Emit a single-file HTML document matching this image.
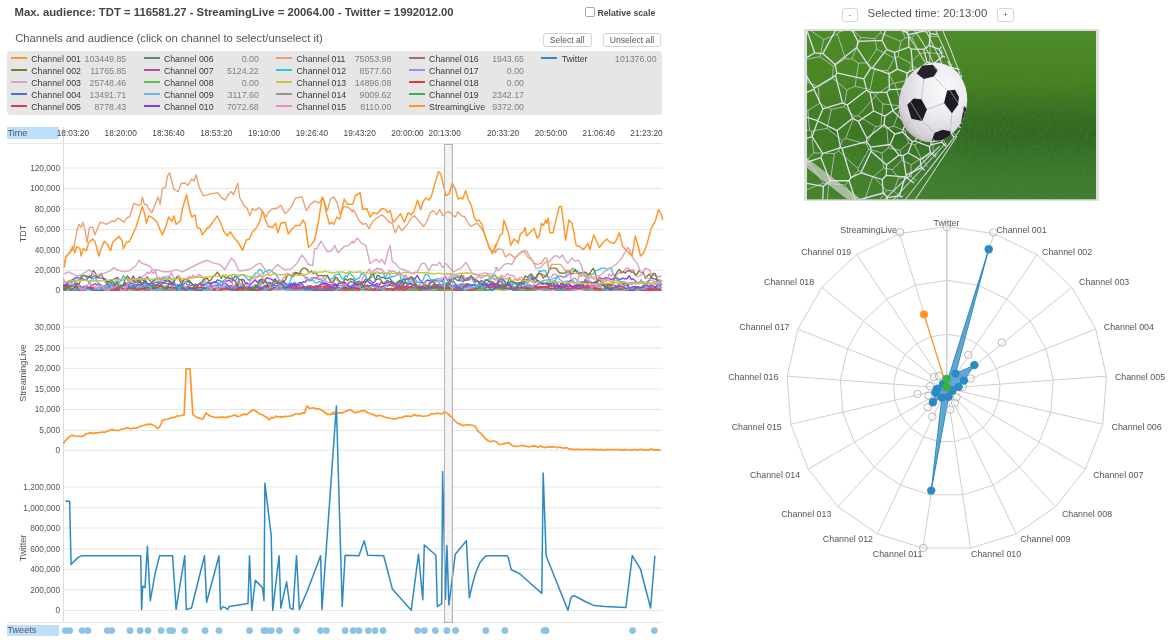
<!DOCTYPE html>
<html><head><meta charset="utf-8">
<style>
html,body{margin:0;padding:0;background:#fff;width:1172px;height:640px;overflow:hidden;font-family:'Liberation Sans', Arial, Helvetica, sans-serif;}
.abs{position:absolute;white-space:nowrap;}
#title{left:14.6px;top:4px;font-size:11.32px;font-weight:bold;color:#444;line-height:16px;}
#sub{left:15.2px;top:30.2px;font-size:11.25px;color:#555;line-height:16px;}
.btn{position:absolute;top:32.9px;height:12.2px;border:1px solid #d4d4d4;border-radius:3px;background:#fff;font-size:8.6px;color:#555;text-align:center;line-height:12.4px;box-sizing:content-box;}
#legend{position:absolute;left:7px;top:51px;width:655px;height:64px;background:#e6e6e6;border-radius:4px;}
.li{position:absolute;font-size:8.75px;color:#3a3a3a;line-height:10px;}
.lv{position:absolute;font-size:8.8px;color:#808080;line-height:10px;text-align:right;}
.ll{position:absolute;height:2px;width:16px;}
svg text{font-family:'Liberation Sans', Arial, Helvetica, sans-serif;}
.yl{font-size:8.25px;fill:#555;}
.tl{font-size:8.3px;fill:#444;}
.tl2{font-size:9.1px;fill:#555;}
.at{font-size:9px;fill:#555;}
.rl{font-size:8.85px;fill:#555;}
</style></head><body>
<div class="abs" id="title">Max. audience: TDT = 116581.27 - StreamingLive = 20064.00 - Twitter = 1992012.00</div>
<div class="abs" id="sub">Channels and audience (click on channel to select/unselect it)</div>
<div class="abs" style="left:585.3px;top:7.2px;width:7.6px;height:7.4px;border:1px solid #a8a8a8;border-radius:2px;background:#fff"></div>
<div class="abs" style="left:597.4px;top:6.8px;font-size:8.75px;font-weight:bold;color:#4a4a4a;line-height:12px">Relative scale</div>
<div class="btn" style="left:543px;width:46.5px">Select all</div>
<div class="btn" style="left:603px;width:56px">Unselect all</div>
<div id="legend"></div>
<div class="ll" style="left:11.0px;top:57.1px;background:#ff9626"></div>
<div class="li" style="left:31.3px;top:54.3px">Channel 001</div>
<div class="lv" style="left:66.0px;width:60.2px;top:54.3px">103449.85</div>
<div class="ll" style="left:11.0px;top:69.1px;background:#7f7a2e"></div>
<div class="li" style="left:31.3px;top:66.3px">Channel 002</div>
<div class="lv" style="left:66.0px;width:60.2px;top:66.3px">11765.85</div>
<div class="ll" style="left:11.0px;top:81.1px;background:#d8a6c8"></div>
<div class="li" style="left:31.3px;top:78.3px">Channel 003</div>
<div class="lv" style="left:66.0px;width:60.2px;top:78.3px">25748.46</div>
<div class="ll" style="left:11.0px;top:93.1px;background:#4a6ed2"></div>
<div class="li" style="left:31.3px;top:90.3px">Channel 004</div>
<div class="lv" style="left:66.0px;width:60.2px;top:90.3px">13491.71</div>
<div class="ll" style="left:11.0px;top:105.1px;background:#d0404e"></div>
<div class="li" style="left:31.3px;top:102.3px">Channel 005</div>
<div class="lv" style="left:66.0px;width:60.2px;top:102.3px">8778.43</div>
<div class="ll" style="left:143.6px;top:57.1px;background:#5a8a72"></div>
<div class="li" style="left:163.9px;top:54.3px">Channel 006</div>
<div class="lv" style="left:198.6px;width:60.2px;top:54.3px">0.00</div>
<div class="ll" style="left:143.6px;top:69.1px;background:#b84c9e"></div>
<div class="li" style="left:163.9px;top:66.3px">Channel 007</div>
<div class="lv" style="left:198.6px;width:60.2px;top:66.3px">5124.22</div>
<div class="ll" style="left:143.6px;top:81.1px;background:#5cc050"></div>
<div class="li" style="left:163.9px;top:78.3px">Channel 008</div>
<div class="lv" style="left:198.6px;width:60.2px;top:78.3px">0.00</div>
<div class="ll" style="left:143.6px;top:93.1px;background:#6ab8f0"></div>
<div class="li" style="left:163.9px;top:90.3px">Channel 009</div>
<div class="lv" style="left:198.6px;width:60.2px;top:90.3px">3117.60</div>
<div class="ll" style="left:143.6px;top:105.1px;background:#7f40f8"></div>
<div class="li" style="left:163.9px;top:102.3px">Channel 010</div>
<div class="lv" style="left:198.6px;width:60.2px;top:102.3px">7072.68</div>
<div class="ll" style="left:276.2px;top:57.1px;background:#eaa070"></div>
<div class="li" style="left:296.5px;top:54.3px">Channel 011</div>
<div class="lv" style="left:331.2px;width:60.2px;top:54.3px">75053.98</div>
<div class="ll" style="left:276.2px;top:69.1px;background:#30c8d8"></div>
<div class="li" style="left:296.5px;top:66.3px">Channel 012</div>
<div class="lv" style="left:331.2px;width:60.2px;top:66.3px">8577.60</div>
<div class="ll" style="left:276.2px;top:81.1px;background:#c8c43c"></div>
<div class="li" style="left:296.5px;top:78.3px">Channel 013</div>
<div class="lv" style="left:331.2px;width:60.2px;top:78.3px">14896.08</div>
<div class="ll" style="left:276.2px;top:93.1px;background:#929292"></div>
<div class="li" style="left:296.5px;top:90.3px">Channel 014</div>
<div class="lv" style="left:331.2px;width:60.2px;top:90.3px">9009.62</div>
<div class="ll" style="left:276.2px;top:105.1px;background:#f08ad0"></div>
<div class="li" style="left:296.5px;top:102.3px">Channel 015</div>
<div class="lv" style="left:331.2px;width:60.2px;top:102.3px">8110.00</div>
<div class="ll" style="left:408.8px;top:57.1px;background:#a8705c"></div>
<div class="li" style="left:429.1px;top:54.3px">Channel 016</div>
<div class="lv" style="left:463.8px;width:60.2px;top:54.3px">1943.65</div>
<div class="ll" style="left:408.8px;top:69.1px;background:#b486e4"></div>
<div class="li" style="left:429.1px;top:66.3px">Channel 017</div>
<div class="lv" style="left:463.8px;width:60.2px;top:66.3px">0.00</div>
<div class="ll" style="left:408.8px;top:81.1px;background:#e03c3c"></div>
<div class="li" style="left:429.1px;top:78.3px">Channel 018</div>
<div class="lv" style="left:463.8px;width:60.2px;top:78.3px">0.00</div>
<div class="ll" style="left:408.8px;top:93.1px;background:#3cb040"></div>
<div class="li" style="left:429.1px;top:90.3px">Channel 019</div>
<div class="lv" style="left:463.8px;width:60.2px;top:90.3px">2342.17</div>
<div class="ll" style="left:408.8px;top:105.1px;background:#ff9626"></div>
<div class="li" style="left:429.1px;top:102.3px">StreamingLive</div>
<div class="lv" style="left:463.8px;width:60.2px;top:102.3px">9372.00</div>
<div class="ll" style="left:541.4px;top:57.1px;background:#2b8ac6"></div>
<div class="li" style="left:561.7px;top:54.3px">Twitter</div>
<div class="lv" style="left:596.4px;width:60.2px;top:54.3px">101376.00</div>
<svg class="abs" style="left:0;top:0" width="1172" height="640" viewBox="0 0 1172 640">
<line x1="7" y1="143.5" x2="662.5" y2="143.5" stroke="#e6e6e6" stroke-width="1"/>
<line x1="7" y1="622.5" x2="662.5" y2="622.5" stroke="#e6e6e6" stroke-width="1"/>
<line x1="63.5" y1="127" x2="63.5" y2="623" stroke="#dcdcdc" stroke-width="1"/>
<line x1="64" y1="290.6" x2="662.5" y2="290.6" stroke="#e6e6e6" stroke-width="1"/>
<text x="60" y="293.4" text-anchor="end" class="yl">0</text>
<line x1="64" y1="270.2" x2="662.5" y2="270.2" stroke="#e6e6e6" stroke-width="1"/>
<text x="60" y="273.0" text-anchor="end" class="yl">20,000</text>
<line x1="64" y1="249.8" x2="662.5" y2="249.8" stroke="#e6e6e6" stroke-width="1"/>
<text x="60" y="252.6" text-anchor="end" class="yl">40,000</text>
<line x1="64" y1="229.4" x2="662.5" y2="229.4" stroke="#e6e6e6" stroke-width="1"/>
<text x="60" y="232.2" text-anchor="end" class="yl">60,000</text>
<line x1="64" y1="209.0" x2="662.5" y2="209.0" stroke="#e6e6e6" stroke-width="1"/>
<text x="60" y="211.8" text-anchor="end" class="yl">80,000</text>
<line x1="64" y1="188.5" x2="662.5" y2="188.5" stroke="#e6e6e6" stroke-width="1"/>
<text x="60" y="191.3" text-anchor="end" class="yl">100,000</text>
<line x1="64" y1="168.0" x2="662.5" y2="168.0" stroke="#e6e6e6" stroke-width="1"/>
<text x="60" y="170.8" text-anchor="end" class="yl">120,000</text>
<line x1="64" y1="450.3" x2="662.5" y2="450.3" stroke="#e6e6e6" stroke-width="1"/>
<text x="60" y="453.1" text-anchor="end" class="yl">0</text>
<line x1="64" y1="430.4" x2="662.5" y2="430.4" stroke="#e6e6e6" stroke-width="1"/>
<text x="60" y="433.2" text-anchor="end" class="yl">5,000</text>
<line x1="64" y1="409.5" x2="662.5" y2="409.5" stroke="#e6e6e6" stroke-width="1"/>
<text x="60" y="412.3" text-anchor="end" class="yl">10,000</text>
<line x1="64" y1="389.1" x2="662.5" y2="389.1" stroke="#e6e6e6" stroke-width="1"/>
<text x="60" y="391.9" text-anchor="end" class="yl">15,000</text>
<line x1="64" y1="368.3" x2="662.5" y2="368.3" stroke="#e6e6e6" stroke-width="1"/>
<text x="60" y="371.1" text-anchor="end" class="yl">20,000</text>
<line x1="64" y1="348.0" x2="662.5" y2="348.0" stroke="#e6e6e6" stroke-width="1"/>
<text x="60" y="350.8" text-anchor="end" class="yl">25,000</text>
<line x1="64" y1="327.2" x2="662.5" y2="327.2" stroke="#e6e6e6" stroke-width="1"/>
<text x="60" y="330.0" text-anchor="end" class="yl">30,000</text>
<line x1="64" y1="610.6" x2="662.5" y2="610.6" stroke="#e6e6e6" stroke-width="1"/>
<text x="60" y="613.4" text-anchor="end" class="yl">0</text>
<line x1="64" y1="589.8" x2="662.5" y2="589.8" stroke="#e6e6e6" stroke-width="1"/>
<text x="60" y="592.6" text-anchor="end" class="yl">200,000</text>
<line x1="64" y1="569.3" x2="662.5" y2="569.3" stroke="#e6e6e6" stroke-width="1"/>
<text x="60" y="572.1" text-anchor="end" class="yl">400,000</text>
<line x1="64" y1="548.9" x2="662.5" y2="548.9" stroke="#e6e6e6" stroke-width="1"/>
<text x="60" y="551.7" text-anchor="end" class="yl">600,000</text>
<line x1="64" y1="528.1" x2="662.5" y2="528.1" stroke="#e6e6e6" stroke-width="1"/>
<text x="60" y="530.9" text-anchor="end" class="yl">800,000</text>
<line x1="64" y1="507.8" x2="662.5" y2="507.8" stroke="#e6e6e6" stroke-width="1"/>
<text x="60" y="510.6" text-anchor="end" class="yl">1,000,000</text>
<line x1="64" y1="487.0" x2="662.5" y2="487.0" stroke="#e6e6e6" stroke-width="1"/>
<text x="60" y="489.8" text-anchor="end" class="yl">1,200,000</text>
<text transform="translate(25.8,233.6) rotate(-90)" text-anchor="middle" class="at">TDT</text>
<text transform="translate(25.8,373.1) rotate(-90)" text-anchor="middle" class="at">StreamingLive</text>
<text transform="translate(25.8,547.9) rotate(-90)" text-anchor="middle" class="at">Twitter</text>
<rect x="7" y="127" width="52" height="12" fill="#bedff9"/>
<rect x="7" y="625" width="52" height="11" fill="#bedff9"/>
<text x="7.5" y="136.3" class="tl2">Time</text>
<text x="7.5" y="632.7" class="tl2">Tweets</text>
<text x="72.9" y="136.4" text-anchor="middle" class="tl">18:03:20</text>
<text x="120.7" y="136.4" text-anchor="middle" class="tl">18:20:00</text>
<text x="168.5" y="136.4" text-anchor="middle" class="tl">18:36:40</text>
<text x="216.3" y="136.4" text-anchor="middle" class="tl">18:53:20</text>
<text x="264.1" y="136.4" text-anchor="middle" class="tl">19:10:00</text>
<text x="311.9" y="136.4" text-anchor="middle" class="tl">19:26:40</text>
<text x="359.7" y="136.4" text-anchor="middle" class="tl">19:43:20</text>
<text x="407.5" y="136.4" text-anchor="middle" class="tl">20:00:00</text>
<text x="444.7" y="136.4" text-anchor="middle" class="tl">20:13:00</text>
<text x="503.1" y="136.4" text-anchor="middle" class="tl">20:33:20</text>
<text x="550.9" y="136.4" text-anchor="middle" class="tl">20:50:00</text>
<text x="598.7" y="136.4" text-anchor="middle" class="tl">21:06:40</text>
<text x="646.5" y="136.4" text-anchor="middle" class="tl">21:23:20</text>
<rect x="444.5" y="144.5" width="7.9" height="478" fill="#f3f3f3" stroke="#b4b4b4" stroke-width="1"/>
<polyline points="63.3,289.7 65.3,289.7 67.3,289.8 69.3,290.1 71.3,290.1 73.3,289.7 75.3,289.6 77.3,289.2 79.3,289.2 81.3,289.2 83.3,289.2 85.3,289.8 87.3,289.5 89.3,289.4 91.3,289.3 93.3,289.9 95.3,290.3 97.3,290.3 99.3,290.3 101.3,290.3 103.3,290.3 105.3,290.0 107.3,290.2 109.3,290.0 111.3,289.8 113.3,290.0 115.3,289.4 117.3,289.3 119.3,289.0 121.3,289.3 123.3,289.6 125.3,289.7 127.3,289.7 129.3,289.5 131.3,289.5 133.3,289.6 135.3,290.0 137.3,290.1 139.3,289.6 141.3,289.9 143.3,289.8 145.3,289.6 147.3,290.1 149.3,290.0 151.3,289.6 153.3,290.2 155.3,290.3 157.3,290.2 159.3,290.3 161.3,290.1 163.3,290.1 165.3,290.3 167.3,290.1 169.3,289.8 171.3,289.5 173.3,289.1 175.3,289.0 177.3,289.1 179.3,289.6 181.3,289.4 183.3,289.7 185.3,289.8 187.3,290.2 189.3,290.3 191.3,290.3 193.3,290.0 195.3,290.3 197.3,290.3 199.3,290.3 201.3,290.0 203.3,289.8 205.3,290.3 207.3,290.3 209.3,290.3 211.3,290.3 213.3,290.3 215.3,290.3 217.3,290.0 219.3,289.9 221.3,289.8 223.3,289.7 225.3,289.1 227.3,289.0 229.3,289.0 231.3,288.9 233.3,289.5 235.3,289.1 237.3,288.9 239.3,288.9 241.3,289.6 243.3,289.8 245.3,289.5 247.3,290.1 249.3,290.1 251.3,289.7 253.3,290.2 255.3,289.6 257.3,289.4 259.3,289.5 261.3,289.4 263.3,289.3 265.3,289.3 267.3,289.0 269.3,289.3 271.3,289.5 273.3,289.2 275.3,289.2 277.3,289.6 279.3,289.3 281.3,288.9 283.3,289.2 285.3,289.7 287.3,289.7 289.3,289.8 291.3,289.8 293.3,289.4 295.3,289.7 297.3,289.3 299.3,289.8 301.3,290.0 303.3,289.8 305.3,289.4 307.3,289.2 309.3,289.1 311.3,289.2 313.3,289.2 315.3,289.1 317.3,289.2 319.3,289.2 321.3,289.1 323.3,289.2 325.3,289.0 327.3,288.9 329.3,288.4 331.3,288.5 333.3,288.8 335.3,289.1 337.3,289.2 339.3,288.9 341.3,289.2 343.3,289.1 345.3,288.6 347.3,289.6 349.3,290.0 351.3,289.8 353.3,289.7 355.3,289.6 357.3,289.8 359.3,289.5 361.3,289.5 363.3,289.7 365.3,288.9 367.3,288.9 369.3,289.2 371.3,289.3 373.3,289.4 375.3,289.5 377.3,290.3 379.3,290.3 381.3,290.0 383.3,290.3 385.3,290.3 387.3,289.9 389.3,289.6 391.3,289.1 393.3,289.7 395.3,289.8 397.3,289.9 399.3,289.7 401.3,289.3 403.3,290.3 405.3,289.8 407.3,290.3 409.3,290.0 411.3,290.3 413.3,290.2 415.3,289.8 417.3,289.8 419.3,289.7 421.3,289.5 423.3,289.5 425.3,289.5 427.3,289.0 429.3,288.8 431.3,289.0 433.3,288.2 435.3,288.8 437.3,288.7 439.3,288.9 441.3,289.0 443.3,288.9 445.3,288.9 447.3,288.8 449.3,289.4 451.3,290.0 453.3,289.7 455.3,290.0 457.3,290.3 459.3,290.3 461.3,290.1 463.3,289.8 465.3,289.3 467.3,289.7 469.3,289.7 471.3,290.1 473.3,289.7 475.3,289.2 477.3,289.6 479.3,289.1 481.3,288.9 483.3,289.0 485.3,289.8 487.3,289.3 489.3,289.4 491.3,289.6 493.3,289.5 495.3,289.4 497.3,289.0 499.3,289.4 501.3,289.1 503.3,288.7 505.3,288.4 507.3,288.6 509.3,289.0 511.3,288.8 513.3,288.9 515.3,289.0 517.3,288.6 519.3,288.9 521.3,289.7 523.3,289.8 525.3,290.3 527.3,290.0 529.3,289.9 531.3,290.1 533.3,290.0 535.3,289.7 537.3,289.7 539.3,289.2 541.3,289.3 543.3,289.0 545.3,288.7 547.3,288.3 549.3,288.7 551.3,288.6 553.3,289.4 555.3,289.8 557.3,290.3 559.3,289.9 561.3,290.3 563.3,290.2 565.3,290.2 567.3,290.1 569.3,290.2 571.3,290.1 573.3,289.4 575.3,289.5 577.3,289.3 579.3,289.1 581.3,289.2 583.3,289.7 585.3,289.9 587.3,289.5 589.3,290.1 591.3,290.2 593.3,289.8 595.3,289.5 597.3,289.5 599.3,289.3 601.3,289.3 603.3,289.7 605.3,290.2 607.3,290.3 609.3,290.0 611.3,290.1 613.3,290.3 615.3,290.3 617.3,290.3 619.3,290.3 621.3,290.3 623.3,290.3 625.3,290.3 627.3,290.3 629.3,290.3 631.3,290.3 633.3,290.3 635.3,290.3 637.3,290.3 639.3,290.3 641.3,290.3 643.3,290.3 645.3,290.3 647.3,290.2 649.3,289.9 651.3,289.7 653.3,289.3 655.3,289.2 657.3,289.1 659.3,289.8 661.3,289.5" fill="none" stroke="#5a8a72" stroke-width="1.35" stroke-linejoin="round"/>
<polyline points="63.3,289.1 65.3,289.3 67.3,288.8 69.3,289.5 71.3,289.4 73.3,288.6 75.3,289.1 77.3,289.0 79.3,288.5 81.3,288.7 83.3,288.6 85.3,288.5 87.3,289.0 89.3,289.1 91.3,289.1 93.3,288.9 95.3,289.1 97.3,289.2 99.3,289.6 101.3,289.7 103.3,289.4 105.3,289.4 107.3,289.8 109.3,290.0 111.3,289.1 113.3,288.8 115.3,288.8 117.3,289.7 119.3,289.5 121.3,289.4 123.3,288.9 125.3,288.9 127.3,289.0 129.3,289.0 131.3,289.7 133.3,289.4 135.3,289.3 137.3,289.6 139.3,289.2 141.3,288.7 143.3,289.3 145.3,289.5 147.3,289.5 149.3,289.4 151.3,289.6 153.3,289.9 155.3,289.2 157.3,289.0 159.3,289.4 161.3,289.9 163.3,289.3 165.3,289.1 167.3,288.6 169.3,288.5 171.3,288.9 173.3,289.0 175.3,289.8 177.3,290.0 179.3,290.0 181.3,289.8 183.3,290.0 185.3,290.0 187.3,289.8 189.3,289.7 191.3,289.5 193.3,289.4 195.3,289.6 197.3,289.3 199.3,289.4 201.3,289.7 203.3,289.9 205.3,289.9 207.3,289.9 209.3,289.8 211.3,289.8 213.3,289.7 215.3,289.7 217.3,290.1 219.3,289.9 221.3,289.6 223.3,289.4 225.3,289.5 227.3,289.4 229.3,289.8 231.3,290.3 233.3,290.2 235.3,290.3 237.3,290.1 239.3,290.3 241.3,290.3 243.3,290.3 245.3,290.3 247.3,290.3 249.3,290.3 251.3,290.3 253.3,290.3 255.3,290.3 257.3,290.1 259.3,289.6 261.3,289.4 263.3,289.4 265.3,289.3 267.3,288.8 269.3,288.6 271.3,288.4 273.3,289.0 275.3,289.1 277.3,289.0 279.3,289.2 281.3,288.9 283.3,288.8 285.3,288.7 287.3,288.9 289.3,288.2 291.3,288.0 293.3,288.3 295.3,288.5 297.3,287.9 299.3,288.2 301.3,288.2 303.3,288.1 305.3,288.3 307.3,288.9 309.3,289.0 311.3,289.0 313.3,288.7 315.3,288.6 317.3,288.8 319.3,288.6 321.3,288.6 323.3,288.7 325.3,288.8 327.3,289.0 329.3,288.9 331.3,289.4 333.3,289.6 335.3,289.6 337.3,290.1 339.3,290.2 341.3,290.3 343.3,290.3 345.3,290.3 347.3,290.2 349.3,290.1 351.3,290.1 353.3,290.3 355.3,289.8 357.3,289.6 359.3,289.3 361.3,289.6 363.3,289.7 365.3,290.3 367.3,289.9 369.3,289.6 371.3,290.2 373.3,290.2 375.3,289.9 377.3,290.3 379.3,290.3 381.3,290.3 383.3,290.3 385.3,290.3 387.3,290.3 389.3,290.3 391.3,290.3 393.3,290.1 395.3,289.5 397.3,289.2 399.3,289.7 401.3,289.8 403.3,290.2 405.3,290.3 407.3,290.3 409.3,290.2 411.3,290.0 413.3,290.3 415.3,290.3 417.3,290.3 419.3,290.3 421.3,290.3 423.3,290.3 425.3,290.3 427.3,290.2 429.3,290.0 431.3,290.0 433.3,290.1 435.3,290.1 437.3,290.3 439.3,290.3 441.3,290.3 443.3,290.3 445.3,290.3 447.3,290.3 449.3,290.3 451.3,290.3 453.3,290.3 455.3,290.3 457.3,290.1 459.3,290.1 461.3,290.3 463.3,290.3 465.3,290.2 467.3,289.9 469.3,289.8 471.3,290.0 473.3,290.3 475.3,290.3 477.3,290.3 479.3,290.3 481.3,290.3 483.3,290.3 485.3,290.3 487.3,290.2 489.3,290.2 491.3,289.4 493.3,289.6 495.3,289.2 497.3,289.3 499.3,289.0 501.3,289.8 503.3,290.1 505.3,289.9 507.3,289.7 509.3,288.9 511.3,288.9 513.3,288.6 515.3,288.6 517.3,288.4 519.3,288.4 521.3,288.7 523.3,288.7 525.3,289.2 527.3,288.9 529.3,289.3 531.3,289.3 533.3,288.7 535.3,288.9 537.3,289.0 539.3,288.7 541.3,288.9 543.3,289.3 545.3,289.2 547.3,289.1 549.3,289.0 551.3,289.3 553.3,288.8 555.3,288.4 557.3,288.6 559.3,288.7 561.3,289.0 563.3,288.6 565.3,289.0 567.3,288.9 569.3,289.2 571.3,289.5 573.3,289.3 575.3,288.9 577.3,289.0 579.3,289.3 581.3,289.1 583.3,289.2 585.3,289.2 587.3,288.8 589.3,288.6 591.3,288.9 593.3,288.3 595.3,288.5 597.3,288.4 599.3,288.8 601.3,289.0 603.3,289.6 605.3,289.1 607.3,288.7 609.3,289.3 611.3,289.8 613.3,290.3 615.3,289.8 617.3,290.0 619.3,289.9 621.3,290.0 623.3,290.0 625.3,290.3 627.3,290.2 629.3,290.3 631.3,290.3 633.3,290.3 635.3,290.0 637.3,290.0 639.3,290.3 641.3,290.1 643.3,290.2 645.3,289.6 647.3,289.4 649.3,289.5 651.3,289.7 653.3,289.9 655.3,290.2 657.3,290.2 659.3,290.0 661.3,289.8" fill="none" stroke="#5cc050" stroke-width="1.35" stroke-linejoin="round"/>
<polyline points="63.3,287.4 65.3,288.0 67.3,288.1 69.3,286.7 71.3,288.1 73.3,288.5 75.3,288.5 77.3,288.5 79.3,288.3 81.3,288.6 83.3,288.4 85.3,288.5 87.3,288.1 89.3,289.3 91.3,289.7 93.3,289.6 95.3,290.1 97.3,290.3 99.3,289.9 101.3,290.1 103.3,289.6 105.3,289.1 107.3,288.9 109.3,288.7 111.3,288.8 113.3,289.5 115.3,289.5 117.3,289.2 119.3,289.4 121.3,289.4 123.3,288.9 125.3,289.4 127.3,289.0 129.3,288.0 131.3,288.4 133.3,288.4 135.3,288.6 137.3,287.8 139.3,287.8 141.3,287.5 143.3,288.1 145.3,288.3 147.3,288.4 149.3,289.4 151.3,288.6 153.3,288.1 155.3,289.2 157.3,288.8 159.3,288.9 161.3,288.6 163.3,288.5 165.3,289.4 167.3,289.4 169.3,288.6 171.3,288.9 173.3,289.5 175.3,290.1 177.3,290.3 179.3,290.2 181.3,289.1 183.3,288.9 185.3,288.7 187.3,287.6 189.3,288.1 191.3,288.6 193.3,288.3 195.3,288.1 197.3,288.8 199.3,289.5 201.3,289.2 203.3,289.1 205.3,289.7 207.3,289.7 209.3,289.9 211.3,289.5 213.3,289.5 215.3,289.5 217.3,289.6 219.3,288.9 221.3,288.2 223.3,288.5 225.3,288.1 227.3,288.7 229.3,288.7 231.3,288.3 233.3,287.6 235.3,288.0 237.3,288.2 239.3,288.2 241.3,289.1 243.3,289.1 245.3,289.4 247.3,289.2 249.3,289.7 251.3,290.3 253.3,290.3 255.3,290.1 257.3,290.2 259.3,289.5 261.3,289.6 263.3,289.8 265.3,289.4 267.3,290.2 269.3,290.3 271.3,290.2 273.3,289.6 275.3,289.6 277.3,289.3 279.3,289.6 281.3,289.3 283.3,288.4 285.3,288.9 287.3,287.6 289.3,288.2 291.3,288.3 293.3,288.3 295.3,287.8 297.3,288.7 299.3,289.8 301.3,289.4 303.3,288.9 305.3,288.6 307.3,287.2 309.3,287.4 311.3,287.5 313.3,287.2 315.3,287.3 317.3,286.6 319.3,287.7 321.3,288.1 323.3,290.0 325.3,289.4 327.3,289.6 329.3,289.0 331.3,287.8 333.3,288.0 335.3,288.3 337.3,288.7 339.3,289.2 341.3,289.5 343.3,289.0 345.3,289.0 347.3,289.0 349.3,289.1 351.3,288.6 353.3,288.4 355.3,288.5 357.3,288.2 359.3,288.4 361.3,289.1 363.3,288.3 365.3,288.2 367.3,288.8 369.3,288.3 371.3,288.2 373.3,289.1 375.3,288.2 377.3,288.2 379.3,287.8 381.3,287.9 383.3,288.1 385.3,289.1 387.3,288.5 389.3,288.6 391.3,288.8 393.3,288.6 395.3,288.7 397.3,288.3 399.3,288.6 401.3,288.7 403.3,289.9 405.3,290.0 407.3,289.5 409.3,288.7 411.3,288.9 413.3,289.0 415.3,288.1 417.3,288.4 419.3,288.1 421.3,287.4 423.3,287.6 425.3,287.1 427.3,287.8 429.3,287.9 431.3,288.1 433.3,288.1 435.3,287.7 437.3,286.6 439.3,287.3 441.3,287.9 443.3,287.8 445.3,288.5 447.3,288.3 449.3,288.1 451.3,288.4 453.3,288.2 455.3,289.1 457.3,288.7 459.3,289.6 461.3,289.9 463.3,290.0 465.3,290.1 467.3,289.5 469.3,289.3 471.3,289.5 473.3,289.1 475.3,288.3 477.3,288.4 479.3,288.3 481.3,287.7 483.3,287.7 485.3,288.6 487.3,287.3 489.3,286.4 491.3,287.8 493.3,288.0 495.3,288.0 497.3,287.6 499.3,287.4 501.3,287.8 503.3,288.6 505.3,288.6 507.3,288.1 509.3,288.8 511.3,289.4 513.3,289.3 515.3,290.3 517.3,290.2 519.3,290.3 521.3,289.9 523.3,290.1 525.3,290.3 527.3,290.3 529.3,290.2 531.3,290.3 533.3,290.2 535.3,289.6 537.3,288.9 539.3,288.0 541.3,288.5 543.3,288.8 545.3,290.2 547.3,289.0 549.3,289.4 551.3,289.3 553.3,289.0 555.3,289.7 557.3,289.4 559.3,289.3 561.3,290.2 563.3,289.9 565.3,289.1 567.3,290.1 569.3,289.5 571.3,289.3 573.3,289.0 575.3,288.8 577.3,288.1 579.3,288.3 581.3,288.0 583.3,288.3 585.3,288.0 587.3,288.6 589.3,288.7 591.3,287.8 593.3,287.8 595.3,288.0 597.3,288.8 599.3,289.2 601.3,289.1 603.3,288.6 605.3,288.4 607.3,288.2 609.3,288.3 611.3,287.7 613.3,288.1 615.3,288.5 617.3,288.1 619.3,288.2 621.3,288.5 623.3,288.9 625.3,289.0 627.3,288.7 629.3,288.5 631.3,289.2 633.3,289.0 635.3,288.9 637.3,289.4 639.3,288.9 641.3,289.1 643.3,289.3 645.3,288.8 647.3,288.1 649.3,288.6 651.3,288.4 653.3,289.0 655.3,287.7 657.3,288.2 659.3,287.7 661.3,288.2" fill="none" stroke="#3cb040" stroke-width="1.35" stroke-linejoin="round"/>
<polyline points="63.3,286.8 65.3,288.4 67.3,288.7 69.3,288.4 71.3,288.5 73.3,288.9 75.3,287.7 77.3,287.8 79.3,288.8 81.3,288.3 83.3,289.3 85.3,288.6 87.3,288.9 89.3,288.8 91.3,288.1 93.3,288.1 95.3,289.0 97.3,289.8 99.3,289.0 101.3,288.6 103.3,289.0 105.3,288.5 107.3,288.3 109.3,288.0 111.3,289.3 113.3,289.4 115.3,288.8 117.3,288.4 119.3,287.9 121.3,289.4 123.3,289.2 125.3,288.8 127.3,287.4 129.3,288.1 131.3,288.4 133.3,288.4 135.3,288.0 137.3,288.3 139.3,287.8 141.3,288.3 143.3,288.2 145.3,288.6 147.3,288.5 149.3,288.9 151.3,289.7 153.3,289.0 155.3,288.8 157.3,289.1 159.3,288.9 161.3,288.3 163.3,288.9 165.3,288.9 167.3,288.6 169.3,288.3 171.3,288.6 173.3,289.7 175.3,288.9 177.3,288.7 179.3,288.7 181.3,288.8 183.3,288.7 185.3,288.9 187.3,289.4 189.3,289.7 191.3,289.9 193.3,290.0 195.3,290.3 197.3,289.8 199.3,290.3 201.3,289.7 203.3,290.1 205.3,289.7 207.3,288.8 209.3,288.7 211.3,289.1 213.3,289.0 215.3,288.9 217.3,289.8 219.3,289.9 221.3,289.6 223.3,289.8 225.3,289.5 227.3,289.0 229.3,288.6 231.3,288.1 233.3,287.9 235.3,288.1 237.3,288.2 239.3,288.4 241.3,288.6 243.3,288.7 245.3,289.7 247.3,289.7 249.3,289.5 251.3,289.9 253.3,289.8 255.3,289.3 257.3,289.3 259.3,288.1 261.3,289.6 263.3,289.6 265.3,290.3 267.3,289.6 269.3,288.1 271.3,289.5 273.3,289.3 275.3,288.9 277.3,289.0 279.3,288.7 281.3,289.9 283.3,289.3 285.3,289.0 287.3,288.9 289.3,289.2 291.3,288.8 293.3,289.0 295.3,288.8 297.3,289.1 299.3,290.2 301.3,290.0 303.3,289.7 305.3,289.1 307.3,289.5 309.3,289.4 311.3,289.0 313.3,288.9 315.3,288.2 317.3,287.2 319.3,287.9 321.3,289.0 323.3,288.5 325.3,287.7 327.3,287.4 329.3,287.1 331.3,287.7 333.3,288.2 335.3,287.8 337.3,288.4 339.3,289.4 341.3,289.9 343.3,288.3 345.3,287.4 347.3,287.9 349.3,288.4 351.3,288.3 353.3,288.8 355.3,288.1 357.3,288.2 359.3,288.9 361.3,288.1 363.3,288.5 365.3,288.4 367.3,288.5 369.3,288.7 371.3,288.5 373.3,288.9 375.3,289.8 377.3,290.3 379.3,290.3 381.3,290.3 383.3,290.3 385.3,290.3 387.3,289.9 389.3,289.7 391.3,289.9 393.3,290.1 395.3,290.3 397.3,290.3 399.3,290.2 401.3,289.7 403.3,289.6 405.3,289.6 407.3,288.9 409.3,288.9 411.3,288.4 413.3,288.2 415.3,288.1 417.3,287.5 419.3,288.0 421.3,288.3 423.3,288.8 425.3,289.2 427.3,288.3 429.3,287.4 431.3,287.6 433.3,287.4 435.3,287.0 437.3,286.8 439.3,286.4 441.3,287.5 443.3,288.0 445.3,287.8 447.3,287.2 449.3,287.4 451.3,288.0 453.3,288.3 455.3,288.7 457.3,289.2 459.3,288.3 461.3,288.7 463.3,288.7 465.3,287.5 467.3,287.0 469.3,287.1 471.3,287.7 473.3,287.6 475.3,286.9 477.3,286.8 479.3,286.4 481.3,286.7 483.3,286.7 485.3,287.1 487.3,287.1 489.3,286.7 491.3,287.7 493.3,287.9 495.3,287.9 497.3,288.3 499.3,288.5 501.3,288.1 503.3,287.1 505.3,287.0 507.3,287.1 509.3,288.2 511.3,287.2 513.3,287.4 515.3,287.6 517.3,288.4 519.3,288.4 521.3,289.1 523.3,289.0 525.3,288.7 527.3,288.7 529.3,288.5 531.3,289.0 533.3,288.2 535.3,288.6 537.3,289.6 539.3,289.5 541.3,289.8 543.3,290.2 545.3,290.2 547.3,289.8 549.3,290.2 551.3,290.1 553.3,289.1 555.3,288.7 557.3,288.8 559.3,288.7 561.3,288.7 563.3,288.8 565.3,288.3 567.3,288.4 569.3,289.8 571.3,289.6 573.3,289.9 575.3,289.4 577.3,289.6 579.3,289.4 581.3,288.1 583.3,288.8 585.3,289.4 587.3,290.0 589.3,290.3 591.3,290.3 593.3,290.3 595.3,290.3 597.3,290.3 599.3,290.3 601.3,290.3 603.3,290.3 605.3,290.3 607.3,290.3 609.3,289.5 611.3,288.3 613.3,287.8 615.3,287.9 617.3,287.9 619.3,287.1 621.3,286.5 623.3,287.0 625.3,287.0 627.3,287.1 629.3,287.3 631.3,287.8 633.3,288.6 635.3,288.9 637.3,289.7 639.3,288.9 641.3,288.6 643.3,289.2 645.3,288.4 647.3,288.0 649.3,289.1 651.3,288.0 653.3,287.7 655.3,286.7 657.3,287.7 659.3,287.6 661.3,287.5" fill="none" stroke="#b486e4" stroke-width="1.35" stroke-linejoin="round"/>
<polyline points="63.3,287.9 65.3,287.1 67.3,288.5 69.3,289.4 71.3,290.3 73.3,290.3 75.3,290.3 77.3,290.0 79.3,289.5 81.3,289.3 83.3,289.7 85.3,289.8 87.3,288.8 89.3,288.1 91.3,288.1 93.3,288.4 95.3,287.1 97.3,287.7 99.3,287.3 101.3,286.5 103.3,287.0 105.3,286.5 107.3,287.7 109.3,287.0 111.3,287.0 113.3,288.5 115.3,287.9 117.3,288.7 119.3,287.6 121.3,288.2 123.3,288.4 125.3,288.1 127.3,288.4 129.3,288.2 131.3,288.6 133.3,288.0 135.3,288.1 137.3,287.9 139.3,290.2 141.3,289.0 143.3,288.8 145.3,290.2 147.3,289.8 149.3,289.2 151.3,288.2 153.3,289.1 155.3,287.7 157.3,287.9 159.3,286.1 161.3,286.5 163.3,286.2 165.3,286.8 167.3,287.9 169.3,287.1 171.3,286.5 173.3,285.6 175.3,285.3 177.3,286.2 179.3,287.8 181.3,288.4 183.3,288.9 185.3,289.5 187.3,288.8 189.3,288.5 191.3,288.7 193.3,288.5 195.3,288.6 197.3,288.3 199.3,287.7 201.3,287.0 203.3,287.8 205.3,289.1 207.3,287.8 209.3,287.8 211.3,287.0 213.3,288.5 215.3,288.7 217.3,288.6 219.3,289.7 221.3,289.9 223.3,289.1 225.3,288.1 227.3,286.8 229.3,287.7 231.3,289.0 233.3,288.4 235.3,287.6 237.3,287.6 239.3,288.7 241.3,288.0 243.3,287.4 245.3,287.1 247.3,287.7 249.3,287.5 251.3,287.0 253.3,287.6 255.3,289.2 257.3,288.8 259.3,288.3 261.3,288.3 263.3,287.6 265.3,288.2 267.3,288.2 269.3,288.5 271.3,288.0 273.3,286.8 275.3,287.2 277.3,285.7 279.3,284.8 281.3,284.7 283.3,284.8 285.3,283.9 287.3,284.7 289.3,285.3 291.3,286.6 293.3,286.5 295.3,285.7 297.3,285.6 299.3,285.7 301.3,286.2 303.3,286.4 305.3,287.8 307.3,287.0 309.3,287.6 311.3,288.6 313.3,289.1 315.3,289.6 317.3,288.8 319.3,287.8 321.3,289.0 323.3,288.1 325.3,287.4 327.3,288.0 329.3,289.3 331.3,289.7 333.3,290.0 335.3,289.5 337.3,289.6 339.3,290.3 341.3,290.3 343.3,290.3 345.3,290.1 347.3,290.3 349.3,290.3 351.3,290.3 353.3,290.3 355.3,289.8 357.3,288.9 359.3,288.3 361.3,288.0 363.3,289.3 365.3,289.6 367.3,289.8 369.3,290.3 371.3,289.6 373.3,290.0 375.3,290.3 377.3,290.3 379.3,290.3 381.3,290.3 383.3,289.6 385.3,289.2 387.3,289.9 389.3,290.3 391.3,290.3 393.3,289.7 395.3,289.3 397.3,288.4 399.3,287.2 401.3,286.4 403.3,287.1 405.3,286.4 407.3,286.0 409.3,287.6 411.3,288.0 413.3,289.2 415.3,289.2 417.3,288.6 419.3,289.4 421.3,290.3 423.3,289.4 425.3,288.9 427.3,287.7 429.3,288.8 431.3,287.9 433.3,286.3 435.3,285.0 437.3,285.6 439.3,285.8 441.3,286.3 443.3,285.8 445.3,285.3 447.3,285.7 449.3,287.2 451.3,286.7 453.3,287.3 455.3,287.0 457.3,287.0 459.3,285.8 461.3,285.3 463.3,286.1 465.3,286.1 467.3,285.0 469.3,286.0 471.3,286.0 473.3,285.3 475.3,284.8 477.3,284.9 479.3,286.4 481.3,287.7 483.3,287.6 485.3,287.4 487.3,285.5 489.3,286.6 491.3,285.9 493.3,285.7 495.3,287.4 497.3,288.2 499.3,288.1 501.3,288.5 503.3,288.6 505.3,288.2 507.3,288.8 509.3,288.4 511.3,288.9 513.3,289.2 515.3,288.6 517.3,289.0 519.3,288.7 521.3,287.3 523.3,287.5 525.3,287.7 527.3,287.2 529.3,287.6 531.3,286.9 533.3,288.1 535.3,287.6 537.3,288.1 539.3,288.8 541.3,287.3 543.3,288.1 545.3,286.7 547.3,286.4 549.3,285.5 551.3,286.7 553.3,286.0 555.3,285.2 557.3,285.7 559.3,286.2 561.3,284.5 563.3,285.0 565.3,285.8 567.3,286.7 569.3,286.5 571.3,286.5 573.3,286.7 575.3,285.5 577.3,286.2 579.3,286.1 581.3,285.3 583.3,286.5 585.3,285.9 587.3,284.8 589.3,286.4 591.3,287.6 593.3,288.5 595.3,290.0 597.3,289.3 599.3,290.3 601.3,289.9 603.3,288.5 605.3,289.8 607.3,289.8 609.3,290.3 611.3,290.1 613.3,290.3 615.3,290.3 617.3,289.9 619.3,289.2 621.3,289.4 623.3,289.2 625.3,289.5 627.3,289.2 629.3,290.0 631.3,289.7 633.3,290.3 635.3,290.3 637.3,289.1 639.3,288.9 641.3,289.8 643.3,289.4 645.3,290.0 647.3,290.3 649.3,290.3 651.3,290.2 653.3,289.6 655.3,289.5 657.3,290.0 659.3,290.3 661.3,289.2" fill="none" stroke="#a8705c" stroke-width="1.35" stroke-linejoin="round"/>
<polyline points="63.3,288.0 65.3,290.2 67.3,290.3 69.3,288.0 71.3,289.2 73.3,289.0 75.3,288.5 77.3,288.6 79.3,288.7 81.3,290.0 83.3,290.3 85.3,288.4 87.3,289.1 89.3,287.9 91.3,289.7 93.3,289.6 95.3,289.0 97.3,287.7 99.3,288.8 101.3,288.0 103.3,287.5 105.3,288.3 107.3,287.6 109.3,288.6 111.3,289.3 113.3,289.0 115.3,290.3 117.3,290.3 119.3,290.3 121.3,290.3 123.3,290.3 125.3,290.3 127.3,290.3 129.3,288.8 131.3,289.9 133.3,290.3 135.3,288.7 137.3,288.1 139.3,287.0 141.3,288.0 143.3,287.0 145.3,286.8 147.3,286.2 149.3,286.4 151.3,285.2 153.3,286.3 155.3,287.5 157.3,289.1 159.3,287.6 161.3,288.3 163.3,289.3 165.3,290.1 167.3,290.1 169.3,290.3 171.3,290.3 173.3,290.3 175.3,290.3 177.3,290.3 179.3,290.3 181.3,290.3 183.3,290.2 185.3,289.6 187.3,288.9 189.3,290.3 191.3,290.3 193.3,290.3 195.3,289.9 197.3,290.3 199.3,290.3 201.3,290.3 203.3,290.3 205.3,289.4 207.3,289.6 209.3,288.2 211.3,289.7 213.3,290.3 215.3,289.4 217.3,288.6 219.3,287.9 221.3,287.7 223.3,287.2 225.3,288.5 227.3,287.3 229.3,287.9 231.3,286.8 233.3,286.8 235.3,289.0 237.3,290.2 239.3,288.5 241.3,288.5 243.3,288.8 245.3,288.3 247.3,288.7 249.3,289.1 251.3,288.7 253.3,288.4 255.3,286.6 257.3,286.7 259.3,284.8 261.3,283.2 263.3,282.0 265.3,281.7 267.3,282.4 269.3,283.0 271.3,283.8 273.3,285.2 275.3,285.6 277.3,286.6 279.3,284.9 281.3,284.7 283.3,285.6 285.3,287.9 287.3,287.9 289.3,288.3 291.3,289.3 293.3,290.3 295.3,290.3 297.3,290.3 299.3,290.3 301.3,287.3 303.3,287.3 305.3,287.5 307.3,285.9 309.3,286.0 311.3,286.1 313.3,286.7 315.3,287.4 317.3,285.8 319.3,285.0 321.3,283.5 323.3,284.5 325.3,284.9 327.3,286.2 329.3,285.4 331.3,287.2 333.3,286.6 335.3,285.6 337.3,284.3 339.3,285.8 341.3,284.9 343.3,286.0 345.3,287.1 347.3,288.5 349.3,287.1 351.3,285.4 353.3,286.4 355.3,287.3 357.3,287.7 359.3,285.0 361.3,284.3 363.3,285.3 365.3,287.6 367.3,288.3 369.3,286.9 371.3,285.0 373.3,285.6 375.3,286.6 377.3,287.3 379.3,289.3 381.3,288.1 383.3,289.2 385.3,287.8 387.3,289.5 389.3,290.3 391.3,289.8 393.3,290.3 395.3,289.0 397.3,288.8 399.3,289.8 401.3,288.8 403.3,287.7 405.3,289.7 407.3,287.4 409.3,286.9 411.3,286.2 413.3,288.3 415.3,289.0 417.3,289.1 419.3,287.7 421.3,289.2 423.3,289.9 425.3,290.3 427.3,290.3 429.3,290.3 431.3,290.3 433.3,290.3 435.3,290.3 437.3,288.4 439.3,287.5 441.3,287.8 443.3,289.0 445.3,289.8 447.3,290.2 449.3,289.6 451.3,289.3 453.3,287.3 455.3,287.0 457.3,288.2 459.3,286.4 461.3,285.6 463.3,285.7 465.3,286.8 467.3,288.9 469.3,289.8 471.3,288.4 473.3,289.1 475.3,290.3 477.3,289.7 479.3,289.1 481.3,288.2 483.3,287.4 485.3,285.9 487.3,287.0 489.3,286.0 491.3,287.3 493.3,286.6 495.3,286.5 497.3,286.4 499.3,285.5 501.3,285.8 503.3,284.9 505.3,284.3 507.3,284.6 509.3,285.7 511.3,286.7 513.3,287.4 515.3,287.6 517.3,287.6 519.3,284.4 521.3,284.2 523.3,283.8 525.3,285.3 527.3,286.4 529.3,286.9 531.3,286.8 533.3,288.0 535.3,286.2 537.3,287.0 539.3,285.9 541.3,288.6 543.3,288.5 545.3,288.0 547.3,287.7 549.3,287.0 551.3,286.8 553.3,286.7 555.3,288.9 557.3,289.4 559.3,290.3 561.3,290.3 563.3,289.6 565.3,289.5 567.3,290.0 569.3,290.3 571.3,287.9 573.3,285.9 575.3,286.2 577.3,285.0 579.3,287.1 581.3,289.2 583.3,289.5 585.3,290.1 587.3,290.3 589.3,289.7 591.3,286.1 593.3,287.0 595.3,287.0 597.3,286.8 599.3,286.9 601.3,286.0 603.3,284.3 605.3,286.1 607.3,286.1 609.3,286.6 611.3,286.4 613.3,288.2 615.3,289.9 617.3,290.3 619.3,290.3 621.3,290.1 623.3,289.6 625.3,290.3 627.3,290.3 629.3,290.3 631.3,290.3 633.3,290.3 635.3,290.3 637.3,290.1 639.3,289.7 641.3,288.8 643.3,289.3 645.3,288.9 647.3,288.7 649.3,287.9 651.3,287.9 653.3,288.0 655.3,288.0 657.3,288.6 659.3,286.1 661.3,285.7" fill="none" stroke="#929292" stroke-width="1.35" stroke-linejoin="round"/>
<polyline points="63.3,285.6 65.3,284.8 67.3,286.5 69.3,286.2 71.3,285.8 73.3,284.6 75.3,284.0 77.3,284.0 79.3,285.5 81.3,286.6 83.3,286.6 85.3,286.4 87.3,287.4 89.3,287.8 91.3,288.2 93.3,288.1 95.3,287.8 97.3,288.1 99.3,289.0 101.3,287.9 103.3,286.6 105.3,286.9 107.3,286.2 109.3,286.1 111.3,285.9 113.3,285.8 115.3,286.7 117.3,286.5 119.3,285.9 121.3,286.9 123.3,285.5 125.3,284.2 127.3,283.3 129.3,282.4 131.3,282.6 133.3,283.7 135.3,284.8 137.3,285.9 139.3,286.1 141.3,286.4 143.3,286.1 145.3,288.0 147.3,286.2 149.3,284.6 151.3,285.1 153.3,285.0 155.3,285.1 157.3,285.3 159.3,285.8 161.3,286.3 163.3,287.2 165.3,287.2 167.3,287.3 169.3,287.1 171.3,287.9 173.3,287.9 175.3,287.9 177.3,287.4 179.3,288.3 181.3,287.9 183.3,287.2 185.3,286.8 187.3,287.3 189.3,287.8 191.3,288.0 193.3,287.4 195.3,286.2 197.3,286.6 199.3,287.3 201.3,287.1 203.3,287.1 205.3,287.9 207.3,288.5 209.3,288.5 211.3,287.9 213.3,288.9 215.3,289.6 217.3,288.9 219.3,289.8 221.3,289.4 223.3,288.9 225.3,288.8 227.3,289.5 229.3,289.3 231.3,289.4 233.3,288.9 235.3,289.4 237.3,288.3 239.3,289.6 241.3,289.5 243.3,289.3 245.3,288.3 247.3,288.7 249.3,288.2 251.3,288.6 253.3,287.9 255.3,286.5 257.3,287.1 259.3,286.8 261.3,287.8 263.3,287.0 265.3,286.2 267.3,286.4 269.3,287.6 271.3,287.3 273.3,286.5 275.3,285.8 277.3,285.5 279.3,287.3 281.3,288.0 283.3,286.8 285.3,288.0 287.3,287.1 289.3,285.7 291.3,285.4 293.3,284.9 295.3,285.6 297.3,287.0 299.3,287.2 301.3,287.5 303.3,287.6 305.3,287.1 307.3,287.3 309.3,287.3 311.3,287.0 313.3,287.2 315.3,285.8 317.3,285.8 319.3,286.0 321.3,286.5 323.3,287.2 325.3,286.2 327.3,286.4 329.3,287.5 331.3,288.0 333.3,288.1 335.3,288.4 337.3,287.5 339.3,288.5 341.3,288.0 343.3,287.9 345.3,288.9 347.3,288.7 349.3,288.6 351.3,288.1 353.3,288.5 355.3,288.2 357.3,289.5 359.3,290.1 361.3,289.2 363.3,288.1 365.3,288.1 367.3,288.6 369.3,287.6 371.3,289.3 373.3,289.8 375.3,289.0 377.3,288.3 379.3,289.1 381.3,290.3 383.3,288.9 385.3,288.6 387.3,289.2 389.3,289.0 391.3,288.1 393.3,290.2 395.3,289.0 397.3,288.2 399.3,289.8 401.3,288.9 403.3,290.2 405.3,289.0 407.3,288.5 409.3,286.6 411.3,287.3 413.3,287.4 415.3,286.6 417.3,287.3 419.3,288.0 421.3,288.3 423.3,288.3 425.3,289.1 427.3,288.6 429.3,288.0 431.3,288.0 433.3,286.6 435.3,287.1 437.3,286.1 439.3,286.9 441.3,286.4 443.3,288.2 445.3,288.0 447.3,288.1 449.3,288.5 451.3,288.9 453.3,289.1 455.3,289.5 457.3,290.3 459.3,290.3 461.3,290.3 463.3,290.3 465.3,290.3 467.3,290.3 469.3,289.9 471.3,289.8 473.3,289.9 475.3,288.5 477.3,287.7 479.3,287.0 481.3,286.2 483.3,286.7 485.3,287.0 487.3,286.3 489.3,287.0 491.3,287.2 493.3,287.0 495.3,286.9 497.3,287.2 499.3,286.6 501.3,286.9 503.3,286.5 505.3,285.8 507.3,285.6 509.3,285.4 511.3,286.7 513.3,287.9 515.3,288.4 517.3,288.0 519.3,286.8 521.3,287.9 523.3,287.7 525.3,288.4 527.3,288.9 529.3,289.0 531.3,288.3 533.3,288.1 535.3,287.1 537.3,288.0 539.3,287.3 541.3,286.7 543.3,286.8 545.3,286.6 547.3,287.2 549.3,288.2 551.3,288.5 553.3,288.9 555.3,286.5 557.3,287.1 559.3,285.9 561.3,286.0 563.3,286.1 565.3,285.8 567.3,286.7 569.3,286.2 571.3,286.1 573.3,287.6 575.3,287.2 577.3,286.9 579.3,286.7 581.3,285.6 583.3,286.3 585.3,286.1 587.3,285.8 589.3,286.8 591.3,286.0 593.3,287.5 595.3,288.6 597.3,288.1 599.3,288.9 601.3,288.9 603.3,290.1 605.3,289.7 607.3,290.3 609.3,289.7 611.3,290.3 613.3,289.9 615.3,289.8 617.3,289.5 619.3,289.3 621.3,289.0 623.3,289.9 625.3,290.3 627.3,290.3 629.3,290.3 631.3,290.3 633.3,290.3 635.3,290.3 637.3,290.3 639.3,290.3 641.3,290.3 643.3,290.3 645.3,290.3 647.3,290.3 649.3,290.3 651.3,290.1 653.3,290.3 655.3,289.5 657.3,288.9 659.3,290.3 661.3,290.3" fill="none" stroke="#e03c3c" stroke-width="1.35" stroke-linejoin="round"/>
<polyline points="63.3,287.0 65.3,286.4 67.3,285.9 69.3,285.2 71.3,285.8 73.3,286.2 75.3,285.8 77.3,286.3 79.3,285.6 81.3,287.1 83.3,286.6 85.3,286.9 87.3,288.5 89.3,287.5 91.3,287.2 93.3,287.2 95.3,288.1 97.3,288.3 99.3,287.0 101.3,287.7 103.3,290.3 105.3,290.3 107.3,290.3 109.3,290.3 111.3,290.3 113.3,290.3 115.3,290.3 117.3,289.5 119.3,290.3 121.3,288.3 123.3,288.5 125.3,289.2 127.3,288.3 129.3,287.7 131.3,288.5 133.3,287.7 135.3,289.1 137.3,289.6 139.3,288.3 141.3,288.3 143.3,289.2 145.3,288.5 147.3,287.6 149.3,287.6 151.3,289.0 153.3,289.0 155.3,288.4 157.3,287.6 159.3,286.1 161.3,286.4 163.3,286.9 165.3,287.0 167.3,286.1 169.3,287.0 171.3,286.0 173.3,288.4 175.3,287.6 177.3,288.1 179.3,287.6 181.3,287.0 183.3,288.0 185.3,287.9 187.3,287.6 189.3,287.1 191.3,287.9 193.3,288.6 195.3,289.9 197.3,287.5 199.3,287.6 201.3,287.7 203.3,288.9 205.3,287.9 207.3,288.2 209.3,286.9 211.3,286.3 213.3,286.4 215.3,285.9 217.3,287.0 219.3,287.3 221.3,287.8 223.3,288.7 225.3,288.5 227.3,288.4 229.3,287.1 231.3,289.8 233.3,290.0 235.3,290.3 237.3,290.2 239.3,289.4 241.3,288.8 243.3,288.5 245.3,288.7 247.3,288.1 249.3,287.7 251.3,289.1 253.3,289.0 255.3,289.9 257.3,290.3 259.3,289.8 261.3,289.4 263.3,289.0 265.3,289.4 267.3,289.3 269.3,289.7 271.3,289.0 273.3,288.2 275.3,286.6 277.3,285.7 279.3,286.6 281.3,287.1 283.3,287.8 285.3,287.5 287.3,285.9 289.3,285.5 291.3,287.5 293.3,288.5 295.3,289.4 297.3,288.6 299.3,288.4 301.3,288.0 303.3,286.5 305.3,287.2 307.3,287.9 309.3,286.2 311.3,286.1 313.3,286.9 315.3,288.6 317.3,289.6 319.3,290.3 321.3,290.3 323.3,290.0 325.3,288.8 327.3,288.7 329.3,289.0 331.3,289.4 333.3,287.5 335.3,288.9 337.3,288.5 339.3,288.3 341.3,287.6 343.3,287.9 345.3,287.4 347.3,286.7 349.3,286.9 351.3,287.3 353.3,287.5 355.3,288.2 357.3,288.2 359.3,288.3 361.3,288.0 363.3,286.8 365.3,285.8 367.3,286.4 369.3,286.0 371.3,286.0 373.3,285.6 375.3,285.8 377.3,285.8 379.3,286.4 381.3,287.2 383.3,286.5 385.3,285.5 387.3,285.3 389.3,285.2 391.3,285.3 393.3,286.0 395.3,287.6 397.3,287.0 399.3,286.9 401.3,287.4 403.3,288.1 405.3,287.0 407.3,288.5 409.3,286.9 411.3,286.4 413.3,284.6 415.3,285.6 417.3,285.9 419.3,286.5 421.3,286.5 423.3,286.8 425.3,287.4 427.3,286.5 429.3,287.3 431.3,287.7 433.3,287.2 435.3,287.6 437.3,287.9 439.3,287.5 441.3,287.8 443.3,288.7 445.3,288.6 447.3,288.5 449.3,287.0 451.3,287.9 453.3,287.0 455.3,287.7 457.3,287.9 459.3,288.1 461.3,287.7 463.3,287.0 465.3,285.6 467.3,286.4 469.3,285.4 471.3,284.9 473.3,284.6 475.3,285.6 477.3,285.1 479.3,285.5 481.3,285.5 483.3,286.0 485.3,285.6 487.3,285.0 489.3,284.4 491.3,285.0 493.3,284.5 495.3,283.8 497.3,285.0 499.3,284.2 501.3,285.7 503.3,285.5 505.3,285.3 507.3,284.4 509.3,284.6 511.3,285.4 513.3,286.3 515.3,287.5 517.3,286.8 519.3,287.1 521.3,287.7 523.3,287.2 525.3,287.8 527.3,288.1 529.3,288.3 531.3,286.8 533.3,285.7 535.3,286.1 537.3,287.5 539.3,287.2 541.3,287.2 543.3,286.9 545.3,286.5 547.3,286.9 549.3,286.2 551.3,285.7 553.3,285.7 555.3,286.3 557.3,286.8 559.3,286.3 561.3,287.3 563.3,287.5 565.3,288.0 567.3,289.0 569.3,288.3 571.3,288.1 573.3,288.0 575.3,287.2 577.3,288.4 579.3,288.3 581.3,287.9 583.3,287.1 585.3,288.0 587.3,287.3 589.3,287.1 591.3,286.1 593.3,285.3 595.3,285.2 597.3,283.8 599.3,284.3 601.3,285.1 603.3,285.7 605.3,286.7 607.3,286.8 609.3,288.3 611.3,288.3 613.3,287.8 615.3,286.9 617.3,287.2 619.3,286.1 621.3,286.8 623.3,287.0 625.3,288.5 627.3,288.9 629.3,289.3 631.3,287.8 633.3,287.3 635.3,288.2 637.3,287.6 639.3,287.2 641.3,287.4 643.3,287.3 645.3,287.6 647.3,287.9 649.3,289.2 651.3,289.0 653.3,287.7 655.3,286.5 657.3,286.9 659.3,287.5 661.3,287.6" fill="none" stroke="#d0404e" stroke-width="1.35" stroke-linejoin="round"/>
<polyline points="63.3,284.5 65.3,285.4 67.3,285.2 69.3,285.6 71.3,285.2 73.3,285.8 75.3,287.4 77.3,287.2 79.3,286.3 81.3,287.5 83.3,287.4 85.3,286.4 87.3,286.8 89.3,287.4 91.3,285.1 93.3,284.5 95.3,283.7 97.3,285.1 99.3,283.6 101.3,285.7 103.3,286.4 105.3,285.6 107.3,284.4 109.3,285.6 111.3,286.4 113.3,286.2 115.3,288.3 117.3,287.3 119.3,286.6 121.3,287.1 123.3,286.4 125.3,285.6 127.3,285.4 129.3,285.0 131.3,283.6 133.3,284.6 135.3,284.7 137.3,285.5 139.3,284.5 141.3,285.3 143.3,284.9 145.3,285.0 147.3,285.2 149.3,283.6 151.3,284.1 153.3,283.0 155.3,282.6 157.3,281.8 159.3,282.7 161.3,282.3 163.3,282.1 165.3,283.4 167.3,283.6 169.3,284.1 171.3,284.5 173.3,283.5 175.3,284.7 177.3,286.7 179.3,288.4 181.3,288.6 183.3,288.9 185.3,288.5 187.3,287.6 189.3,285.6 191.3,285.4 193.3,285.1 195.3,286.1 197.3,285.5 199.3,284.3 201.3,283.2 203.3,285.7 205.3,284.9 207.3,283.5 209.3,283.1 211.3,285.1 213.3,285.6 215.3,285.1 217.3,284.9 219.3,286.0 221.3,287.0 223.3,285.9 225.3,287.3 227.3,285.7 229.3,285.8 231.3,285.6 233.3,287.1 235.3,287.6 237.3,286.7 239.3,288.2 241.3,285.8 243.3,287.3 245.3,288.5 247.3,288.1 249.3,287.4 251.3,286.5 253.3,286.8 255.3,287.0 257.3,287.2 259.3,287.6 261.3,290.1 263.3,288.6 265.3,288.0 267.3,287.6 269.3,288.1 271.3,287.6 273.3,287.4 275.3,287.3 277.3,286.1 279.3,287.9 281.3,287.4 283.3,288.4 285.3,288.4 287.3,286.6 289.3,287.7 291.3,287.6 293.3,288.0 295.3,286.8 297.3,287.8 299.3,289.3 301.3,288.3 303.3,288.4 305.3,288.4 307.3,287.0 309.3,287.9 311.3,288.0 313.3,287.6 315.3,287.0 317.3,287.5 319.3,286.2 321.3,284.0 323.3,284.8 325.3,283.1 327.3,285.8 329.3,284.4 331.3,285.1 333.3,285.1 335.3,285.7 337.3,286.4 339.3,287.8 341.3,288.0 343.3,286.4 345.3,285.2 347.3,285.8 349.3,286.4 351.3,287.1 353.3,288.3 355.3,286.1 357.3,285.5 359.3,285.5 361.3,286.2 363.3,287.3 365.3,285.8 367.3,285.1 369.3,286.3 371.3,285.3 373.3,286.6 375.3,285.9 377.3,287.0 379.3,287.3 381.3,286.7 383.3,286.2 385.3,285.2 387.3,286.2 389.3,284.6 391.3,283.5 393.3,284.0 395.3,283.9 397.3,285.0 399.3,285.4 401.3,286.9 403.3,286.8 405.3,286.5 407.3,285.1 409.3,284.3 411.3,283.8 413.3,284.6 415.3,285.1 417.3,285.6 419.3,285.5 421.3,287.6 423.3,286.7 425.3,288.2 427.3,288.5 429.3,288.2 431.3,288.4 433.3,286.4 435.3,286.5 437.3,284.9 439.3,283.9 441.3,284.8 443.3,284.6 445.3,283.6 447.3,284.3 449.3,284.6 451.3,285.4 453.3,285.5 455.3,286.0 457.3,286.0 459.3,285.0 461.3,283.8 463.3,284.1 465.3,284.2 467.3,283.7 469.3,284.4 471.3,285.8 473.3,284.7 475.3,285.9 477.3,285.1 479.3,286.3 481.3,284.4 483.3,285.8 485.3,285.0 487.3,283.7 489.3,285.1 491.3,283.8 493.3,285.0 495.3,287.0 497.3,286.2 499.3,285.5 501.3,285.9 503.3,288.5 505.3,288.3 507.3,288.3 509.3,288.4 511.3,288.4 513.3,290.0 515.3,290.0 517.3,287.6 519.3,285.9 521.3,286.3 523.3,287.1 525.3,286.6 527.3,285.4 529.3,284.9 531.3,286.3 533.3,286.1 535.3,286.0 537.3,284.6 539.3,283.7 541.3,283.5 543.3,282.7 545.3,283.7 547.3,282.5 549.3,283.5 551.3,283.6 553.3,283.0 555.3,284.5 557.3,285.5 559.3,287.5 561.3,287.1 563.3,287.1 565.3,287.3 567.3,286.7 569.3,288.8 571.3,288.5 573.3,288.1 575.3,288.1 577.3,287.0 579.3,285.1 581.3,285.8 583.3,286.9 585.3,287.4 587.3,287.2 589.3,286.5 591.3,287.3 593.3,286.2 595.3,287.3 597.3,286.3 599.3,285.9 601.3,285.5 603.3,283.4 605.3,284.1 607.3,284.6 609.3,284.4 611.3,283.8 613.3,285.6 615.3,285.4 617.3,286.4 619.3,285.7 621.3,284.4 623.3,284.7 625.3,285.0 627.3,285.1 629.3,288.3 631.3,287.2 633.3,286.5 635.3,286.3 637.3,286.8 639.3,287.5 641.3,287.5 643.3,286.1 645.3,286.2 647.3,284.9 649.3,287.8 651.3,288.0 653.3,287.5 655.3,287.4 657.3,288.9 659.3,289.2 661.3,287.5" fill="none" stroke="#b84c9e" stroke-width="1.35" stroke-linejoin="round"/>
<polyline points="63.3,290.3 65.3,290.3 67.3,290.3 69.3,290.3 71.3,288.8 73.3,290.3 75.3,288.6 77.3,289.2 79.3,289.7 81.3,286.6 83.3,286.7 85.3,288.6 87.3,289.2 89.3,289.9 91.3,290.3 93.3,290.3 95.3,288.8 97.3,287.9 99.3,289.8 101.3,285.0 103.3,286.7 105.3,286.5 107.3,286.5 109.3,285.3 111.3,286.0 113.3,285.3 115.3,282.2 117.3,282.7 119.3,284.9 121.3,284.7 123.3,286.2 125.3,286.8 127.3,286.4 129.3,285.9 131.3,286.4 133.3,285.1 135.3,285.6 137.3,287.8 139.3,286.2 141.3,286.8 143.3,284.9 145.3,286.1 147.3,285.3 149.3,285.0 151.3,289.3 153.3,290.3 155.3,290.3 157.3,289.2 159.3,290.3 161.3,289.5 163.3,287.3 165.3,286.4 167.3,285.4 169.3,286.3 171.3,286.4 173.3,286.0 175.3,285.4 177.3,284.5 179.3,285.1 181.3,286.4 183.3,287.3 185.3,286.5 187.3,289.1 189.3,290.3 191.3,290.3 193.3,290.3 195.3,290.3 197.3,290.3 199.3,290.3 201.3,290.3 203.3,290.3 205.3,290.3 207.3,290.3 209.3,290.3 211.3,289.5 213.3,287.2 215.3,285.4 217.3,287.2 219.3,286.1 221.3,286.7 223.3,287.9 225.3,285.3 227.3,286.4 229.3,287.7 231.3,288.2 233.3,289.2 235.3,287.3 237.3,286.5 239.3,284.4 241.3,284.0 243.3,285.3 245.3,283.9 247.3,285.3 249.3,286.2 251.3,286.5 253.3,286.4 255.3,284.6 257.3,285.8 259.3,285.3 261.3,285.5 263.3,287.6 265.3,289.1 267.3,289.1 269.3,288.0 271.3,287.3 273.3,286.4 275.3,286.4 277.3,287.1 279.3,286.3 281.3,287.9 283.3,289.7 285.3,289.8 287.3,290.3 289.3,290.3 291.3,290.3 293.3,290.3 295.3,290.3 297.3,290.3 299.3,290.3 301.3,290.3 303.3,290.3 305.3,290.3 307.3,290.3 309.3,290.3 311.3,290.3 313.3,290.3 315.3,290.3 317.3,290.3 319.3,290.3 321.3,290.3 323.3,290.3 325.3,290.3 327.3,290.3 329.3,290.3 331.3,290.0 333.3,289.6 335.3,289.1 337.3,289.4 339.3,288.1 341.3,287.7 343.3,285.7 345.3,285.1 347.3,286.3 349.3,286.7 351.3,285.2 353.3,285.9 355.3,285.4 357.3,284.8 359.3,285.3 361.3,289.1 363.3,288.5 365.3,287.8 367.3,287.4 369.3,288.4 371.3,286.3 373.3,286.5 375.3,287.5 377.3,288.4 379.3,287.6 381.3,289.1 383.3,290.2 385.3,286.6 387.3,284.5 389.3,283.2 391.3,281.5 393.3,281.3 395.3,284.7 397.3,283.1 399.3,281.7 401.3,281.6 403.3,285.4 405.3,283.6 407.3,281.9 409.3,283.4 411.3,283.6 413.3,282.8 415.3,283.5 417.3,282.2 419.3,282.7 421.3,282.2 423.3,282.7 425.3,285.6 427.3,287.3 429.3,282.2 431.3,282.4 433.3,281.0 435.3,280.0 437.3,278.3 439.3,278.7 441.3,280.7 443.3,281.6 445.3,285.3 447.3,285.8 449.3,284.4 451.3,288.1 453.3,287.6 455.3,286.1 457.3,284.1 459.3,285.9 461.3,287.0 463.3,289.8 465.3,290.3 467.3,289.4 469.3,285.7 471.3,287.6 473.3,285.3 475.3,284.8 477.3,285.8 479.3,282.5 481.3,287.0 483.3,287.0 485.3,286.6 487.3,283.2 489.3,280.9 491.3,278.2 493.3,279.2 495.3,278.8 497.3,277.8 499.3,278.3 501.3,278.9 503.3,280.4 505.3,281.9 507.3,284.5 509.3,281.7 511.3,283.1 513.3,286.9 515.3,286.4 517.3,286.5 519.3,286.2 521.3,283.4 523.3,284.0 525.3,284.8 527.3,286.2 529.3,286.3 531.3,287.0 533.3,286.6 535.3,281.7 537.3,281.8 539.3,283.8 541.3,281.2 543.3,280.6 545.3,280.2 547.3,280.0 549.3,279.7 551.3,279.7 553.3,278.5 555.3,278.1 557.3,277.2 559.3,279.4 561.3,280.5 563.3,282.5 565.3,281.6 567.3,281.0 569.3,282.6 571.3,282.2 573.3,278.7 575.3,278.0 577.3,281.0 579.3,281.9 581.3,281.6 583.3,282.4 585.3,282.4 587.3,281.2 589.3,281.4 591.3,283.9 593.3,283.2 595.3,283.8 597.3,284.0 599.3,285.3 601.3,287.6 603.3,289.4 605.3,289.5 607.3,290.3 609.3,290.3 611.3,290.3 613.3,290.3 615.3,290.3 617.3,290.3 619.3,290.3 621.3,290.3 623.3,290.3 625.3,289.5 627.3,289.8 629.3,288.8 631.3,288.3 633.3,288.0 635.3,290.3 637.3,290.3 639.3,290.3 641.3,288.5 643.3,289.1 645.3,287.8 647.3,287.4 649.3,286.5 651.3,284.9 653.3,287.5 655.3,286.9 657.3,287.1 659.3,287.5 661.3,288.7" fill="none" stroke="#6ab8f0" stroke-width="1.35" stroke-linejoin="round"/>
<polyline points="63.3,289.2 65.3,290.3 67.3,284.6 69.3,281.0 71.3,281.5 73.3,280.4 75.3,283.0 77.3,289.0 79.3,290.3 81.3,290.3 83.3,286.7 85.3,286.5 87.3,288.3 89.3,288.2 91.3,289.7 93.3,290.3 95.3,290.3 97.3,290.3 99.3,290.3 101.3,290.3 103.3,290.3 105.3,290.3 107.3,287.4 109.3,287.4 111.3,282.3 113.3,286.0 115.3,285.2 117.3,287.5 119.3,287.3 121.3,286.7 123.3,285.2 125.3,282.7 127.3,284.1 129.3,286.8 131.3,286.8 133.3,285.8 135.3,287.1 137.3,284.8 139.3,281.2 141.3,284.7 143.3,283.9 145.3,281.8 147.3,286.2 149.3,285.5 151.3,285.8 153.3,288.6 155.3,285.2 157.3,284.6 159.3,285.6 161.3,284.5 163.3,283.1 165.3,281.7 167.3,280.9 169.3,280.6 171.3,283.6 173.3,284.6 175.3,284.3 177.3,290.1 179.3,284.8 181.3,285.5 183.3,287.6 185.3,290.3 187.3,289.4 189.3,288.6 191.3,289.2 193.3,289.3 195.3,290.3 197.3,290.3 199.3,290.3 201.3,290.3 203.3,288.4 205.3,288.1 207.3,287.3 209.3,286.0 211.3,283.1 213.3,282.0 215.3,281.9 217.3,282.6 219.3,284.6 221.3,285.3 223.3,283.7 225.3,283.3 227.3,284.3 229.3,287.1 231.3,289.9 233.3,288.4 235.3,285.7 237.3,284.7 239.3,287.5 241.3,287.5 243.3,286.6 245.3,288.2 247.3,286.9 249.3,286.9 251.3,288.3 253.3,290.3 255.3,287.7 257.3,286.5 259.3,288.0 261.3,289.6 263.3,286.9 265.3,285.3 267.3,285.8 269.3,282.3 271.3,283.2 273.3,285.6 275.3,283.1 277.3,283.7 279.3,283.1 281.3,283.2 283.3,285.5 285.3,287.8 287.3,287.7 289.3,284.3 291.3,286.4 293.3,283.2 295.3,283.0 297.3,285.5 299.3,284.8 301.3,283.5 303.3,285.5 305.3,289.8 307.3,288.3 309.3,290.0 311.3,288.2 313.3,290.3 315.3,290.3 317.3,290.3 319.3,290.3 321.3,290.3 323.3,290.3 325.3,290.3 327.3,290.3 329.3,290.3 331.3,290.3 333.3,290.3 335.3,289.1 337.3,284.9 339.3,283.0 341.3,282.5 343.3,282.2 345.3,282.5 347.3,285.5 349.3,282.3 351.3,281.5 353.3,282.5 355.3,285.2 357.3,282.0 359.3,281.2 361.3,284.2 363.3,282.8 365.3,279.1 367.3,279.9 369.3,279.8 371.3,281.3 373.3,283.1 375.3,281.1 377.3,275.2 379.3,276.3 381.3,277.8 383.3,277.1 385.3,278.8 387.3,278.2 389.3,277.4 391.3,280.5 393.3,283.3 395.3,283.7 397.3,282.0 399.3,281.8 401.3,279.6 403.3,283.2 405.3,282.4 407.3,284.0 409.3,283.8 411.3,283.2 413.3,285.4 415.3,285.7 417.3,288.0 419.3,286.9 421.3,288.3 423.3,288.7 425.3,287.6 427.3,288.5 429.3,285.5 431.3,286.6 433.3,284.5 435.3,283.9 437.3,286.2 439.3,286.3 441.3,287.8 443.3,288.0 445.3,288.1 447.3,283.7 449.3,284.7 451.3,281.4 453.3,280.9 455.3,284.1 457.3,289.0 459.3,286.9 461.3,290.3 463.3,288.2 465.3,285.5 467.3,284.5 469.3,284.9 471.3,285.4 473.3,284.7 475.3,285.3 477.3,286.3 479.3,286.8 481.3,284.0 483.3,285.3 485.3,284.4 487.3,286.8 489.3,287.9 491.3,290.2 493.3,289.8 495.3,287.5 497.3,286.4 499.3,287.2 501.3,285.5 503.3,286.0 505.3,285.0 507.3,284.4 509.3,283.2 511.3,288.5 513.3,290.3 515.3,288.1 517.3,287.8 519.3,282.6 521.3,283.4 523.3,284.7 525.3,281.5 527.3,280.8 529.3,277.4 531.3,277.4 533.3,278.9 535.3,278.2 537.3,280.8 539.3,282.2 541.3,283.7 543.3,284.3 545.3,282.7 547.3,283.9 549.3,283.3 551.3,284.5 553.3,282.7 555.3,288.6 557.3,288.4 559.3,287.5 561.3,289.3 563.3,286.4 565.3,285.7 567.3,282.8 569.3,281.1 571.3,280.2 573.3,281.2 575.3,283.9 577.3,284.4 579.3,285.4 581.3,284.7 583.3,285.6 585.3,279.1 587.3,283.2 589.3,281.0 591.3,282.4 593.3,283.2 595.3,281.5 597.3,281.9 599.3,284.8 601.3,283.9 603.3,284.4 605.3,288.6 607.3,287.6 609.3,289.3 611.3,290.1 613.3,288.2 615.3,287.0 617.3,287.3 619.3,282.3 621.3,281.8 623.3,283.4 625.3,283.1 627.3,283.5 629.3,288.2 631.3,290.3 633.3,290.3 635.3,287.3 637.3,287.2 639.3,287.4 641.3,288.1 643.3,285.5 645.3,285.3 647.3,281.6 649.3,280.4 651.3,277.6 653.3,278.9 655.3,278.9 657.3,280.6 659.3,281.5 661.3,285.6" fill="none" stroke="#4a6ed2" stroke-width="1.35" stroke-linejoin="round"/>
<polyline points="63.3,284.8 65.3,285.4 67.3,282.9 69.3,282.4 71.3,280.4 73.3,279.3 75.3,278.2 77.3,277.2 79.3,278.9 81.3,278.1 83.3,279.1 85.3,280.4 87.3,278.7 89.3,275.8 91.3,278.3 93.3,276.1 95.3,275.7 97.3,277.9 99.3,278.1 101.3,278.1 103.3,278.1 105.3,279.2 107.3,281.6 109.3,281.6 111.3,280.3 113.3,279.3 115.3,278.7 117.3,277.4 119.3,279.6 121.3,280.0 123.3,279.8 125.3,278.5 127.3,278.8 129.3,278.4 131.3,278.8 133.3,276.0 135.3,280.2 137.3,280.5 139.3,276.9 141.3,277.3 143.3,280.8 145.3,280.7 147.3,283.1 149.3,284.0 151.3,283.3 153.3,280.4 155.3,279.9 157.3,279.2 159.3,278.0 161.3,278.3 163.3,280.1 165.3,280.5 167.3,280.2 169.3,280.9 171.3,282.1 173.3,282.6 175.3,284.8 177.3,286.0 179.3,285.5 181.3,285.5 183.3,284.9 185.3,282.3 187.3,281.7 189.3,281.8 191.3,283.6 193.3,285.0 195.3,284.0 197.3,285.0 199.3,283.9 201.3,285.2 203.3,284.5 205.3,284.2 207.3,282.3 209.3,282.9 211.3,283.3 213.3,282.7 215.3,282.5 217.3,279.8 219.3,280.5 221.3,281.5 223.3,282.1 225.3,281.3 227.3,281.0 229.3,280.1 231.3,282.5 233.3,278.6 235.3,276.2 237.3,277.1 239.3,279.7 241.3,279.8 243.3,279.4 245.3,283.3 247.3,283.0 249.3,285.1 251.3,283.9 253.3,281.5 255.3,279.9 257.3,282.6 259.3,280.3 261.3,279.1 263.3,280.1 265.3,279.6 267.3,277.6 269.3,278.7 271.3,279.2 273.3,280.5 275.3,278.9 277.3,282.7 279.3,280.4 281.3,282.1 283.3,280.6 285.3,283.3 287.3,284.5 289.3,285.1 291.3,283.3 293.3,285.6 295.3,284.1 297.3,284.7 299.3,282.4 301.3,282.8 303.3,281.9 305.3,282.2 307.3,279.3 309.3,280.3 311.3,280.5 313.3,277.7 315.3,278.2 317.3,277.7 319.3,279.4 321.3,279.5 323.3,283.4 325.3,283.0 327.3,283.8 329.3,285.8 331.3,287.4 333.3,284.8 335.3,283.7 337.3,285.8 339.3,282.4 341.3,283.4 343.3,283.7 345.3,283.1 347.3,284.6 349.3,286.7 351.3,287.1 353.3,284.5 355.3,282.7 357.3,285.0 359.3,282.6 361.3,282.5 363.3,281.6 365.3,281.6 367.3,281.0 369.3,282.6 371.3,283.9 373.3,284.7 375.3,284.9 377.3,283.4 379.3,285.1 381.3,282.1 383.3,283.1 385.3,283.8 387.3,282.4 389.3,281.7 391.3,282.2 393.3,283.8 395.3,285.1 397.3,287.1 399.3,284.5 401.3,282.4 403.3,279.5 405.3,279.0 407.3,278.9 409.3,278.2 411.3,277.3 413.3,278.4 415.3,278.3 417.3,275.5 419.3,279.1 421.3,281.7 423.3,283.2 425.3,281.8 427.3,280.0 429.3,280.8 431.3,279.9 433.3,280.3 435.3,280.1 437.3,281.2 439.3,281.3 441.3,281.4 443.3,279.7 445.3,276.6 447.3,280.2 449.3,279.6 451.3,280.0 453.3,278.7 455.3,277.6 457.3,277.0 459.3,276.5 461.3,278.7 463.3,281.9 465.3,279.3 467.3,277.8 469.3,279.9 471.3,278.2 473.3,277.7 475.3,282.1 477.3,280.7 479.3,282.4 481.3,280.5 483.3,281.8 485.3,282.9 487.3,285.2 489.3,285.0 491.3,282.9 493.3,283.8 495.3,286.4 497.3,282.4 499.3,279.5 501.3,278.8 503.3,280.0 505.3,282.2 507.3,284.7 509.3,283.4 511.3,281.1 513.3,282.9 515.3,282.7 517.3,283.0 519.3,283.3 521.3,282.3 523.3,279.0 525.3,280.4 527.3,279.3 529.3,278.0 531.3,279.0 533.3,279.7 535.3,282.1 537.3,280.4 539.3,281.4 541.3,282.5 543.3,282.3 545.3,283.6 547.3,284.9 549.3,284.9 551.3,282.2 553.3,282.4 555.3,281.5 557.3,283.8 559.3,286.6 561.3,283.0 563.3,283.5 565.3,285.6 567.3,285.2 569.3,283.8 571.3,286.2 573.3,286.9 575.3,285.7 577.3,286.6 579.3,284.6 581.3,282.7 583.3,281.9 585.3,282.6 587.3,282.5 589.3,283.4 591.3,283.4 593.3,282.7 595.3,283.0 597.3,281.3 599.3,277.4 601.3,278.9 603.3,278.8 605.3,278.0 607.3,277.6 609.3,278.6 611.3,279.8 613.3,278.6 615.3,278.1 617.3,277.9 619.3,279.7 621.3,279.0 623.3,278.2 625.3,279.1 627.3,278.5 629.3,275.6 631.3,279.5 633.3,278.9 635.3,281.1 637.3,283.4 639.3,283.5 641.3,282.4 643.3,282.2 645.3,284.0 647.3,285.9 649.3,286.2 651.3,285.5 653.3,286.2 655.3,287.9 657.3,284.3 659.3,285.2 661.3,285.0" fill="none" stroke="#7f40f8" stroke-width="1.35" stroke-linejoin="round"/>
<polyline points="63.3,282.7 65.3,282.1 67.3,282.4 69.3,280.5 71.3,283.1 73.3,286.0 75.3,280.4 77.3,280.4 79.3,278.5 81.3,275.8 83.3,275.1 85.3,275.6 87.3,279.8 89.3,283.5 91.3,280.6 93.3,278.8 95.3,277.5 97.3,281.7 99.3,286.3 101.3,287.7 103.3,289.2 105.3,287.4 107.3,288.5 109.3,283.5 111.3,284.3 113.3,284.9 115.3,282.0 117.3,280.8 119.3,282.7 121.3,280.3 123.3,275.6 125.3,279.1 127.3,279.7 129.3,282.1 131.3,286.3 133.3,283.7 135.3,281.4 137.3,278.8 139.3,277.9 141.3,282.8 143.3,282.4 145.3,283.5 147.3,285.6 149.3,287.3 151.3,284.3 153.3,284.2 155.3,278.9 157.3,277.8 159.3,282.5 161.3,280.0 163.3,276.9 165.3,277.2 167.3,280.4 169.3,276.1 171.3,279.6 173.3,279.8 175.3,284.2 177.3,286.4 179.3,289.3 181.3,285.3 183.3,281.6 185.3,282.2 187.3,285.0 189.3,284.2 191.3,282.6 193.3,285.7 195.3,287.5 197.3,286.5 199.3,283.8 201.3,282.9 203.3,281.3 205.3,283.9 207.3,289.1 209.3,286.9 211.3,287.9 213.3,286.9 215.3,286.7 217.3,284.4 219.3,285.5 221.3,281.2 223.3,280.8 225.3,279.3 227.3,277.9 229.3,275.6 231.3,275.2 233.3,280.0 235.3,281.3 237.3,276.7 239.3,275.9 241.3,275.1 243.3,274.7 245.3,276.9 247.3,278.8 249.3,280.4 251.3,277.5 253.3,276.9 255.3,273.1 257.3,272.8 259.3,269.4 261.3,269.8 263.3,274.0 265.3,270.7 267.3,271.2 269.3,269.6 271.3,270.5 273.3,272.6 275.3,273.2 277.3,276.8 279.3,280.0 281.3,282.0 283.3,282.8 285.3,285.5 287.3,284.8 289.3,283.3 291.3,277.9 293.3,273.7 295.3,274.7 297.3,273.3 299.3,274.7 301.3,274.5 303.3,275.3 305.3,277.2 307.3,277.3 309.3,281.1 311.3,279.8 313.3,280.4 315.3,282.8 317.3,283.1 319.3,281.3 321.3,282.6 323.3,281.0 325.3,279.4 327.3,275.7 329.3,278.8 331.3,279.1 333.3,277.9 335.3,274.6 337.3,274.7 339.3,273.6 341.3,277.9 343.3,279.5 345.3,275.5 347.3,276.8 349.3,272.0 351.3,274.8 353.3,276.2 355.3,280.4 357.3,278.8 359.3,278.2 361.3,273.6 363.3,274.0 365.3,275.4 367.3,279.4 369.3,279.5 371.3,277.3 373.3,275.8 375.3,273.4 377.3,272.2 379.3,273.4 381.3,272.9 383.3,273.4 385.3,277.5 387.3,273.7 389.3,273.6 391.3,277.0 393.3,276.4 395.3,276.2 397.3,274.3 399.3,271.6 401.3,280.0 403.3,278.6 405.3,275.0 407.3,277.9 409.3,282.6 411.3,281.4 413.3,280.3 415.3,279.3 417.3,282.0 419.3,282.7 421.3,281.7 423.3,279.6 425.3,274.3 427.3,274.3 429.3,276.5 431.3,282.6 433.3,279.5 435.3,279.8 437.3,280.0 439.3,282.3 441.3,280.1 443.3,284.2 445.3,283.2 447.3,282.4 449.3,281.2 451.3,277.8 453.3,278.2 455.3,278.2 457.3,276.3 459.3,280.5 461.3,281.0 463.3,280.6 465.3,278.1 467.3,280.2 469.3,278.1 471.3,277.4 473.3,281.2 475.3,284.5 477.3,287.1 479.3,285.6 481.3,284.2 483.3,281.7 485.3,279.4 487.3,280.7 489.3,277.9 491.3,276.2 493.3,275.5 495.3,274.9 497.3,278.7 499.3,277.9 501.3,280.6 503.3,283.3 505.3,283.5 507.3,282.5 509.3,282.2 511.3,282.5 513.3,284.5 515.3,283.2 517.3,284.4 519.3,287.0 521.3,285.6 523.3,281.2 525.3,281.9 527.3,284.1 529.3,280.0 531.3,275.8 533.3,277.0 535.3,277.9 537.3,277.6 539.3,270.8 541.3,271.7 543.3,270.5 545.3,270.7 547.3,276.4 549.3,279.5 551.3,282.4 553.3,280.9 555.3,280.4 557.3,275.9 559.3,277.1 561.3,276.7 563.3,276.9 565.3,276.9 567.3,271.7 569.3,272.2 571.3,269.7 573.3,268.1 575.3,271.2 577.3,270.8 579.3,273.0 581.3,273.6 583.3,274.1 585.3,274.8 587.3,276.6 589.3,273.3 591.3,274.8 593.3,273.8 595.3,270.6 597.3,270.4 599.3,269.3 601.3,268.1 603.3,268.1 605.3,268.1 607.3,270.1 609.3,268.1 611.3,268.5 613.3,274.4 615.3,276.6 617.3,280.4 619.3,280.3 621.3,283.7 623.3,285.5 625.3,283.8 627.3,282.8 629.3,284.2 631.3,284.0 633.3,283.5 635.3,282.7 637.3,282.2 639.3,282.3 641.3,279.8 643.3,283.6 645.3,284.1 647.3,283.1 649.3,283.5 651.3,284.2 653.3,284.5 655.3,283.2 657.3,279.6 659.3,280.0 661.3,280.6" fill="none" stroke="#30c8d8" stroke-width="1.35" stroke-linejoin="round"/>
<polyline points="63.3,278.5 65.3,283.3 67.3,282.0 69.3,282.5 71.3,283.4 73.3,281.3 75.3,280.9 77.3,282.0 79.3,286.9 81.3,289.9 83.3,288.3 85.3,287.2 87.3,285.0 89.3,283.6 91.3,284.1 93.3,286.4 95.3,288.0 97.3,287.0 99.3,288.6 101.3,285.4 103.3,287.7 105.3,290.3 107.3,289.5 109.3,290.3 111.3,286.4 113.3,287.7 115.3,286.6 117.3,286.1 119.3,287.0 121.3,290.1 123.3,290.3 125.3,288.9 127.3,285.0 129.3,278.9 131.3,282.5 133.3,280.7 135.3,280.5 137.3,278.3 139.3,279.7 141.3,277.9 143.3,275.9 145.3,275.0 147.3,272.1 149.3,273.6 151.3,270.8 153.3,273.7 155.3,270.5 157.3,278.5 159.3,278.6 161.3,280.6 163.3,280.4 165.3,277.8 167.3,276.3 169.3,276.5 171.3,272.8 173.3,277.3 175.3,279.6 177.3,275.9 179.3,275.6 181.3,281.2 183.3,280.1 185.3,282.8 187.3,278.7 189.3,276.1 191.3,277.9 193.3,275.0 195.3,277.6 197.3,275.7 199.3,274.8 201.3,275.8 203.3,279.7 205.3,280.4 207.3,285.7 209.3,286.1 211.3,289.6 213.3,285.1 215.3,286.6 217.3,290.3 219.3,288.1 221.3,285.9 223.3,286.1 225.3,280.0 227.3,278.0 229.3,278.1 231.3,279.8 233.3,286.9 235.3,284.6 237.3,281.5 239.3,282.6 241.3,285.5 243.3,284.7 245.3,287.9 247.3,286.6 249.3,283.6 251.3,279.3 253.3,278.7 255.3,278.3 257.3,276.7 259.3,273.7 261.3,275.3 263.3,278.9 265.3,280.8 267.3,283.6 269.3,285.1 271.3,284.6 273.3,282.9 275.3,282.0 277.3,281.4 279.3,282.0 281.3,280.6 283.3,278.2 285.3,276.6 287.3,273.4 289.3,275.0 291.3,276.2 293.3,272.6 295.3,273.1 297.3,273.0 299.3,274.8 301.3,273.1 303.3,275.0 305.3,278.1 307.3,278.4 309.3,279.6 311.3,277.6 313.3,278.7 315.3,278.5 317.3,279.2 319.3,278.4 321.3,280.0 323.3,277.3 325.3,281.0 327.3,281.7 329.3,283.0 331.3,280.9 333.3,280.6 335.3,279.2 337.3,280.0 339.3,281.6 341.3,284.0 343.3,284.1 345.3,284.7 347.3,283.2 349.3,281.8 351.3,279.0 353.3,279.3 355.3,281.1 357.3,283.4 359.3,282.7 361.3,281.3 363.3,276.3 365.3,276.3 367.3,272.5 369.3,269.0 371.3,273.1 373.3,271.1 375.3,269.6 377.3,268.1 379.3,269.6 381.3,268.7 383.3,271.5 385.3,272.8 387.3,273.7 389.3,270.3 391.3,272.1 393.3,270.9 395.3,272.0 397.3,274.8 399.3,274.9 401.3,274.0 403.3,276.5 405.3,275.4 407.3,277.7 409.3,280.0 411.3,279.4 413.3,280.0 415.3,282.2 417.3,285.7 419.3,284.7 421.3,283.3 423.3,283.8 425.3,282.7 427.3,285.9 429.3,283.9 431.3,282.2 433.3,281.1 435.3,282.3 437.3,281.7 439.3,281.0 441.3,278.2 443.3,277.7 445.3,277.3 447.3,279.4 449.3,277.3 451.3,274.7 453.3,276.6 455.3,275.5 457.3,275.3 459.3,276.0 461.3,279.6 463.3,275.3 465.3,280.4 467.3,279.5 469.3,280.4 471.3,277.5 473.3,278.8 475.3,278.8 477.3,277.4 479.3,276.6 481.3,278.2 483.3,276.7 485.3,276.2 487.3,274.3 489.3,276.3 491.3,276.8 493.3,278.1 495.3,280.3 497.3,279.6 499.3,278.5 501.3,275.2 503.3,276.6 505.3,276.1 507.3,273.8 509.3,274.9 511.3,275.4 513.3,275.7 515.3,277.9 517.3,280.5 519.3,277.6 521.3,277.5 523.3,277.9 525.3,281.1 527.3,280.6 529.3,277.5 531.3,280.6 533.3,282.5 535.3,279.4 537.3,275.9 539.3,272.7 541.3,275.0 543.3,274.2 545.3,276.8 547.3,275.9 549.3,277.3 551.3,277.1 553.3,274.2 555.3,274.2 557.3,275.5 559.3,276.0 561.3,275.8 563.3,277.6 565.3,277.3 567.3,276.2 569.3,272.9 571.3,278.8 573.3,281.8 575.3,284.4 577.3,281.5 579.3,275.3 581.3,275.4 583.3,275.7 585.3,273.5 587.3,280.3 589.3,280.5 591.3,287.8 593.3,286.2 595.3,286.4 597.3,286.5 599.3,284.6 601.3,285.2 603.3,281.6 605.3,281.3 607.3,280.1 609.3,273.9 611.3,275.8 613.3,274.1 615.3,276.9 617.3,274.2 619.3,272.7 621.3,273.3 623.3,271.9 625.3,269.1 627.3,268.1 629.3,269.1 631.3,270.8 633.3,269.4 635.3,274.4 637.3,276.6 639.3,275.8 641.3,275.0 643.3,271.2 645.3,268.2 647.3,269.1 649.3,269.6 651.3,274.2 653.3,275.4 655.3,275.4 657.3,276.5 659.3,276.8 661.3,275.7" fill="none" stroke="#f08ad0" stroke-width="1.35" stroke-linejoin="round"/>
<polyline points="63.3,286.5 65.3,290.3 67.3,285.8 69.3,288.1 71.3,290.3 73.3,287.9 75.3,287.4 77.3,283.5 79.3,284.1 81.3,277.3 83.3,275.7 85.3,276.0 87.3,276.3 89.3,277.5 91.3,275.6 93.3,270.4 95.3,273.1 97.3,277.4 99.3,276.1 101.3,273.6 103.3,279.0 105.3,281.2 107.3,284.0 109.3,281.8 111.3,280.1 113.3,282.3 115.3,285.3 117.3,282.5 119.3,288.2 121.3,285.1 123.3,284.9 125.3,278.6 127.3,276.0 129.3,278.3 131.3,279.4 133.3,280.3 135.3,282.5 137.3,281.9 139.3,278.9 141.3,283.5 143.3,283.7 145.3,278.8 147.3,276.9 149.3,279.8 151.3,282.2 153.3,284.4 155.3,288.5 157.3,283.9 159.3,283.2 161.3,284.8 163.3,288.3 165.3,288.2 167.3,288.5 169.3,282.3 171.3,283.3 173.3,282.5 175.3,279.1 177.3,277.3 179.3,278.3 181.3,284.9 183.3,280.2 185.3,278.5 187.3,280.0 189.3,280.3 191.3,283.1 193.3,285.3 195.3,288.8 197.3,286.1 199.3,283.7 201.3,282.7 203.3,280.1 205.3,278.6 207.3,278.5 209.3,281.3 211.3,279.5 213.3,276.1 215.3,274.9 217.3,272.1 219.3,274.7 221.3,278.4 223.3,275.1 225.3,277.6 227.3,277.3 229.3,278.3 231.3,278.5 233.3,279.6 235.3,281.2 237.3,286.3 239.3,279.9 241.3,279.3 243.3,285.1 245.3,287.0 247.3,289.2 249.3,290.0 251.3,290.3 253.3,290.3 255.3,285.5 257.3,285.4 259.3,282.5 261.3,280.4 263.3,284.0 265.3,279.9 267.3,284.9 269.3,285.8 271.3,286.1 273.3,281.6 275.3,281.0 277.3,281.3 279.3,283.5 281.3,282.7 283.3,282.3 285.3,279.9 287.3,275.9 289.3,274.4 291.3,275.3 293.3,276.5 295.3,272.4 297.3,273.0 299.3,274.2 301.3,269.9 303.3,268.1 305.3,268.1 307.3,269.6 309.3,273.0 311.3,271.0 313.3,273.7 315.3,271.9 317.3,275.5 319.3,275.9 321.3,275.4 323.3,275.7 325.3,275.7 327.3,275.3 329.3,279.3 331.3,282.7 333.3,282.7 335.3,277.2 337.3,278.0 339.3,281.0 341.3,282.8 343.3,282.3 345.3,278.6 347.3,280.5 349.3,278.9 351.3,278.6 353.3,279.8 355.3,282.6 357.3,282.7 359.3,284.5 361.3,282.3 363.3,287.1 365.3,282.8 367.3,280.2 369.3,278.6 371.3,274.5 373.3,273.7 375.3,279.6 377.3,279.5 379.3,278.4 381.3,280.6 383.3,283.8 385.3,282.1 387.3,280.3 389.3,281.6 391.3,282.1 393.3,283.3 395.3,284.5 397.3,284.0 399.3,280.4 401.3,285.0 403.3,285.3 405.3,279.9 407.3,279.0 409.3,278.8 411.3,276.6 413.3,280.1 415.3,283.6 417.3,287.9 419.3,290.3 421.3,288.6 423.3,284.9 425.3,285.4 427.3,286.6 429.3,284.5 431.3,282.1 433.3,281.1 435.3,286.5 437.3,287.1 439.3,290.3 441.3,290.3 443.3,290.3 445.3,290.3 447.3,285.8 449.3,281.1 451.3,279.6 453.3,278.9 455.3,278.7 457.3,280.6 459.3,280.7 461.3,275.1 463.3,278.4 465.3,280.6 467.3,280.1 469.3,277.6 471.3,275.6 473.3,279.1 475.3,279.6 477.3,280.5 479.3,284.0 481.3,283.2 483.3,284.2 485.3,281.0 487.3,279.6 489.3,282.0 491.3,281.5 493.3,282.3 495.3,283.9 497.3,284.7 499.3,281.0 501.3,282.1 503.3,286.7 505.3,288.0 507.3,284.5 509.3,277.7 511.3,281.1 513.3,282.0 515.3,282.7 517.3,286.4 519.3,284.3 521.3,283.9 523.3,282.5 525.3,275.8 527.3,277.2 529.3,275.4 531.3,273.8 533.3,276.6 535.3,278.8 537.3,274.6 539.3,273.4 541.3,274.0 543.3,278.1 545.3,275.9 547.3,275.1 549.3,269.5 551.3,268.1 553.3,268.1 555.3,268.1 557.3,269.6 559.3,272.8 561.3,273.0 563.3,273.4 565.3,272.6 567.3,270.6 569.3,271.2 571.3,274.1 573.3,272.7 575.3,269.4 577.3,273.5 579.3,273.3 581.3,272.8 583.3,272.4 585.3,272.1 587.3,273.6 589.3,274.9 591.3,270.9 593.3,268.1 595.3,273.3 597.3,281.6 599.3,280.2 601.3,282.1 603.3,283.3 605.3,287.5 607.3,285.4 609.3,284.8 611.3,285.6 613.3,282.3 615.3,275.0 617.3,271.6 619.3,269.5 621.3,272.3 623.3,271.6 625.3,273.1 627.3,270.8 629.3,270.6 631.3,272.1 633.3,271.8 635.3,275.1 637.3,273.6 639.3,270.3 641.3,272.9 643.3,272.4 645.3,278.3 647.3,276.0 649.3,274.1 651.3,278.0 653.3,273.3 655.3,274.0 657.3,279.9 659.3,283.9 661.3,280.9" fill="none" stroke="#7f7a2e" stroke-width="1.35" stroke-linejoin="round"/>
<polyline points="63.5,281.3 66.2,282.3 69.0,280.4 71.8,281.0 74.5,280.5 77.2,280.1 80.0,280.3 82.5,280.1 85.0,280.2 87.5,280.5 90.0,280.8 92.5,281.1 95.0,280.8 97.5,281.3 100.0,280.8 102.5,280.9 105.0,280.6 107.5,280.3 110.0,279.8 112.5,279.4 115.0,280.0 117.5,279.8 120.0,279.9 122.5,279.8 125.0,278.9 127.5,279.1 130.0,279.3 132.5,278.7 135.0,279.8 137.5,279.2 140.0,279.3 142.5,278.8 145.0,278.6 147.5,279.0 150.0,279.2 152.5,279.5 155.0,278.5 157.5,279.4 160.0,279.3 162.5,278.8 165.0,278.8 167.5,278.9 170.0,278.7 172.5,279.1 175.0,279.2 177.5,278.8 180.0,278.3 182.5,278.7 185.0,278.6 187.5,278.8 190.0,278.3 192.5,278.2 195.1,277.1 197.6,277.3 200.2,277.3 202.7,277.7 205.2,277.0 207.8,277.3 210.3,276.8 212.8,275.9 215.4,276.3 217.9,276.4 220.5,276.1 223.0,275.7 225.8,274.9 228.7,275.8 231.5,275.2 234.3,274.3 237.2,275.0 240.0,275.2 242.5,274.4 245.0,274.8 247.5,276.3 250.0,276.9 252.5,276.4 255.0,276.2 257.5,277.0 260.0,276.3 262.5,276.2 265.0,275.4 267.5,274.4 270.0,275.9 272.5,274.2 275.0,273.7 277.5,274.6 280.0,274.7 282.5,274.8 285.0,274.4 287.5,275.4 290.0,274.9 292.5,275.1 295.0,275.3 297.5,274.9 300.0,275.2 303.0,274.5 306.0,274.8 309.0,272.5 312.0,272.2 314.5,272.2 317.1,272.4 319.6,271.9 322.2,272.1 324.7,271.3 327.3,271.9 329.8,272.2 332.4,272.7 334.9,272.6 337.5,271.9 340.0,272.2 342.5,271.7 345.0,273.2 347.5,272.8 350.0,271.5 352.5,272.3 355.0,272.1 357.5,272.3 360.0,271.8 362.5,272.5 365.0,272.5 367.5,272.7 370.0,273.4 372.5,273.1 375.0,272.4 377.5,272.2 380.0,273.2 382.5,272.9 385.0,273.7 387.5,273.6 390.0,272.8 392.5,273.6 395.0,273.2 397.5,272.7 400.0,273.1 402.5,272.9 405.0,272.3 407.5,272.6 410.0,272.9 412.5,273.4 415.0,272.2 417.5,272.8 420.0,272.7 422.5,272.7 425.0,272.8 427.5,272.3 430.0,273.6 432.5,273.6 435.0,273.9 437.5,273.4 440.0,273.2 442.5,274.1 445.0,273.8 447.5,274.2 450.0,273.7 452.5,274.1 455.0,274.2 457.5,273.9 460.0,273.3 462.5,273.5 465.0,273.0 467.5,272.8 470.0,273.2 472.5,273.4 475.0,273.6 477.5,275.4 480.0,275.6 482.5,275.6 485.0,275.9 487.5,275.4 490.0,276.3 492.5,276.8 495.0,276.3 497.5,277.1 500.0,277.5 502.5,278.0 505.0,279.0 507.5,278.5 510.0,279.3 512.5,280.8 515.0,279.5 517.5,280.5 520.0,279.5 522.5,281.0 525.0,280.2 527.5,281.2 530.0,281.3 532.5,281.4 535.0,281.9 537.5,281.9 540.0,281.9 542.5,281.7 545.0,282.8 547.5,281.7 550.0,282.0 552.5,281.9 555.0,282.2 557.5,281.8 560.0,282.4 562.5,282.2 565.0,282.7 567.5,282.2 570.0,282.8 572.5,282.4 575.0,283.4 577.5,282.7 580.0,283.7 582.5,283.2 585.0,282.9 587.5,283.5 590.0,283.7 592.5,283.9 595.0,283.9 597.5,283.8 600.0,283.4 602.5,282.7 605.0,283.7 607.5,283.1 610.0,283.2 612.5,283.6 615.0,282.5 617.5,283.4 620.0,283.9 622.5,282.9 625.0,282.4 627.5,283.1 630.0,282.4 632.7,282.5 635.3,283.1 638.0,283.2 640.7,281.9 643.3,282.9 646.0,282.1 648.7,282.6 651.3,283.3 654.0,282.5 656.7,282.8 659.3,283.1 662.0,283.4" fill="none" stroke="#c8c43c" stroke-width="1.4"/>
<polyline points="64.2,273.9 68.4,271.8 72.7,273.9 76.9,276.0 81.1,275.0 89.5,269.7 93.8,275.0 102.2,273.9 110.6,270.8 113.8,267.6 117.0,269.7 123.3,271.8 129.6,270.8 135.9,265.5 139.1,260.2 142.3,263.4 148.6,265.5 152.8,269.7 157.0,269.7 163.4,271.8 169.7,271.8 176.0,269.7 182.4,271.8 186.6,269.7 195.0,265.5 203.5,261.3 207.7,260.2 209.2,261.3 214.5,263.4 219.8,264.4 225.0,269.7 228.2,263.4 231.4,258.1 234.5,261.3 238.8,270.8 243.0,270.8 251.4,268.6 256.7,264.4 260.9,263.4 265.1,269.7 268.3,273.9 272.5,269.7 277.8,264.4 280.9,267.6 285.2,269.7 291.5,268.6 296.8,263.4 302.0,254.9 305.2,259.2 308.4,264.4 312.6,265.5 314.7,248.6 316.8,248.6 321.0,241.2 324.2,246.5 327.4,251.8 331.6,250.7 334.7,245.4 337.9,252.8 344.2,246.5 348.5,245.4 352.7,241.2 353.2,243.3 357.4,238.1 361.6,243.3 365.8,245.4 370.0,263.4 373.2,261.3 376.4,259.2 379.5,262.3 381.6,259.2 384.8,264.4 388.0,250.7 390.1,245.4 392.2,261.3 395.4,263.4 399.6,268.6 403.8,269.7 409.1,271.8 413.3,273.9 417.5,271.8 421.7,263.4 424.9,263.4 429.1,270.8 432.3,264.4 436.5,265.5 439.7,262.3 442.8,267.6 446.0,263.4 450.2,268.6 453.4,271.8 457.6,269.7 461.8,267.6 466.0,262.3 469.2,267.6 472.4,273.9 476.6,275.0 480.8,273.9 485.0,272.9 489.2,273.9 493.5,273.9 497.7,267.6 495.0,267.6 498.2,270.7 501.3,267.6 504.5,264.4 507.7,263.4 511.9,264.4 516.1,257.0 520.3,252.8 523.5,250.7 526.6,250.7 529.8,257.0 533.0,261.2 536.1,268.6 540.3,267.6 545.6,262.3 549.8,261.2 554.1,256.0 557.2,256.0 559.3,258.1 562.5,254.9 564.6,259.1 567.8,263.4 572.0,258.1 575.2,261.2 578.3,260.2 581.5,265.5 583.6,275.0 587.8,279.2 594.1,277.1 600.5,275.0 606.8,269.7 613.1,266.5 617.3,263.4 621.6,258.1 624.7,252.8 627.9,247.5 630.0,250.7 633.2,259.1 637.4,263.4 640.5,271.8 645.8,277.1 651.1,280.2 657.4,282.3 662.7,280.6" fill="none" stroke="#d8a6c8" stroke-width="1.4" stroke-linejoin="round"/>
<polyline points="64.2,263.4 66.3,256.0 69.5,252.8 73.7,248.6 76.9,230.7 79.0,224.3 81.1,227.5 82.8,222.2 84.9,229.6 87.0,242.3 89.5,227.5 92.7,227.1 94.8,234.9 100.1,222.2 104.3,223.3 106.4,224.3 111.7,221.2 114.9,221.2 118.0,218.0 121.2,220.1 124.3,222.2 126.5,218.0 129.6,217.0 133.8,203.2 138.1,205.4 141.2,204.3 142.3,196.9 144.4,204.3 146.5,204.3 148.6,208.5 151.8,212.7 156.0,202.2 158.1,196.9 160.2,204.3 162.3,188.5 165.5,187.4 167.6,175.8 169.7,172.7 171.8,181.1 173.9,189.5 178.1,191.6 181.3,183.2 185.5,183.2 187.6,185.3 191.9,179.0 194.0,181.1 196.1,174.8 199.2,187.4 203.5,195.9 207.7,194.8 209.2,194.2 217.7,192.7 220.8,196.9 225.0,200.1 228.2,194.8 231.4,191.6 233.5,194.8 237.7,183.2 239.8,198.0 244.0,205.4 247.2,208.5 249.9,215.9 252.5,208.5 255.6,210.6 258.8,207.5 262.0,210.6 266.2,217.0 268.3,212.7 272.5,208.5 276.7,208.5 280.9,205.4 285.2,213.8 288.3,210.6 291.5,206.4 295.7,198.0 302.0,196.9 306.3,210.6 310.5,204.3 314.7,201.1 318.9,203.2 323.1,198.0 327.4,210.6 330.5,199.0 333.7,196.9 336.9,202.2 340.0,213.8 344.2,206.4 348.5,207.5 352.7,211.7 353.2,209.6 356.3,214.9 359.5,221.2 362.7,224.3 365.8,223.3 369.0,228.6 372.2,222.2 375.3,219.1 378.5,217.0 381.6,214.9 384.8,217.0 388.0,221.2 392.2,223.3 395.4,232.8 398.5,225.4 401.7,230.7 404.9,227.5 408.0,223.3 411.2,218.0 414.3,215.9 417.5,219.1 420.7,223.3 423.8,226.5 427.0,221.2 430.2,212.7 433.3,210.6 436.5,214.9 439.7,209.6 442.8,215.9 446.0,212.7 449.2,211.7 452.3,214.9 455.5,217.0 457.6,211.7 461.8,215.9 465.0,217.0 468.1,223.3 471.3,226.5 474.5,224.3 477.6,223.3 480.8,227.5 485.0,234.9 489.2,248.6 493.5,251.8 496.6,249.7 495.0,252.8 498.2,248.6 502.4,249.6 505.5,257.0 509.8,253.9 515.0,258.1 518.2,254.9 521.4,251.8 524.5,251.8 527.7,257.0 530.9,259.1 534.0,263.4 537.2,264.4 541.4,263.4 544.6,258.1 546.7,258.1 548.8,269.7 552.0,264.4 556.2,264.4 560.4,264.4 564.6,269.7 567.8,271.4 570.9,270.1 574.1,273.9 577.3,272.8 580.4,276.4 583.6,275.0 587.8,278.1 591.0,276.0 594.1,279.2 598.4,278.1 602.6,280.6 606.8,279.2 611.0,281.9 615.2,280.2 619.4,282.8 623.7,281.3 627.9,283.4 632.1,282.3 636.3,284.0 640.5,282.8 644.8,284.4 649.0,283.4 653.2,284.9 657.4,283.6 662.7,284.4" fill="none" stroke="#eaa070" stroke-width="1.35" stroke-linejoin="round"/>
<polyline points="64.2,267.6 65.9,257.0 69.5,252.8 72.7,246.5 74.8,252.8 76.9,246.5 80.0,248.6 81.1,256.0 83.2,248.6 86.4,250.7 88.5,243.3 92.7,239.1 94.8,241.2 99.0,256.0 101.1,248.6 104.3,241.2 107.5,244.4 110.6,250.7 112.7,242.3 119.1,236.4 122.2,241.2 123.3,248.6 126.5,242.3 129.6,241.2 135.9,227.5 142.3,206.4 144.4,212.7 146.5,223.3 148.6,215.9 152.8,218.0 157.0,222.2 162.3,234.9 165.5,227.5 168.6,217.0 171.8,221.2 173.9,215.9 176.0,224.3 180.3,221.2 182.4,208.5 186.6,194.8 189.7,210.6 191.9,217.0 195.0,214.9 197.1,227.5 200.3,228.6 202.4,234.9 207.7,227.5 209.2,227.5 213.4,221.2 217.2,215.9 220.8,223.3 224.0,231.7 227.2,235.9 230.3,231.7 233.5,237.0 238.8,243.3 242.6,250.3 246.1,240.2 249.3,239.1 252.5,231.7 256.7,227.5 259.9,221.2 262.4,210.6 265.1,219.1 268.3,226.5 272.5,227.5 275.7,223.3 277.8,232.8 280.9,223.3 285.2,222.2 288.3,233.8 291.5,229.6 295.7,225.4 299.9,225.4 303.1,220.1 305.2,223.3 308.4,247.6 311.5,244.4 314.7,240.2 318.9,219.1 322.1,196.9 324.2,202.2 326.3,212.7 329.5,224.3 331.6,222.2 333.7,224.3 336.9,217.0 340.0,219.1 344.2,199.0 347.4,204.3 352.7,204.3 353.2,203.2 355.3,195.9 360.1,192.7 362.7,209.6 366.9,208.5 370.0,217.0 373.2,212.7 377.4,213.8 381.6,208.5 385.9,209.6 388.0,212.7 390.1,210.6 393.2,222.2 396.4,219.1 400.6,213.8 404.4,222.2 408.0,212.7 411.2,214.9 414.3,210.6 417.5,200.1 420.7,209.6 422.8,202.2 425.9,198.0 429.1,200.1 431.2,196.9 434.4,185.3 438.6,171.6 440.7,173.7 443.9,187.4 446.0,195.9 449.2,193.8 452.3,183.2 455.5,189.5 458.0,199.0 460.8,198.0 462.9,199.0 465.6,190.6 468.1,199.0 471.3,205.4 474.5,218.0 476.6,221.2 479.1,220.1 481.9,224.3 485.0,235.9 489.2,246.5 492.4,253.9 495.6,244.4 495.0,248.6 498.2,240.2 500.3,234.9 502.4,233.8 503.9,220.1 506.6,227.5 508.7,233.8 510.8,245.4 514.0,239.1 517.1,241.2 518.2,243.3 520.3,233.8 523.5,231.7 525.0,227.5 526.6,235.9 528.7,233.8 531.9,230.7 534.0,228.6 537.2,238.0 539.3,235.9 541.4,223.3 543.5,225.4 545.6,220.1 546.7,223.3 548.2,218.0 549.8,232.8 553.0,232.8 556.2,219.1 559.3,206.4 561.4,206.4 563.6,223.3 565.7,240.2 568.8,220.1 572.0,223.3 574.1,233.8 576.2,245.4 579.4,246.5 583.6,249.6 587.8,243.3 589.9,249.6 593.7,234.9 596.2,240.2 599.4,247.5 602.6,243.3 606.8,239.1 610.0,242.3 614.2,243.3 616.3,240.2 619.4,232.8 622.6,246.5 625.8,249.6 628.9,252.8 632.1,256.0 635.3,235.9 638.4,246.5 640.5,256.0 643.7,252.8 646.9,244.4 651.1,228.6 655.3,221.2 658.5,209.6 661.6,214.8 662.7,220.1" fill="none" stroke="#ff9626" stroke-width="1.45" stroke-linejoin="round"/>
<polyline points="63.2,443.6 66.0,440.0 69.6,436.3 72.3,435.2 75.0,436.0 78.1,436.4 81.2,436.3 83.6,435.9 86.0,434.0 88.3,433.4 90.5,432.6 92.8,433.4 95.7,432.9 98.6,432.8 101.5,432.0 104.8,432.3 108.0,431.0 110.7,429.9 113.3,429.7 116.0,430.5 119.0,430.3 122.0,429.0 124.8,428.7 127.6,427.6 130.3,429.0 133.0,428.0 136.2,428.1 139.3,426.8 142.2,425.8 145.0,425.0 147.9,424.4 150.9,424.2 155.0,426.0 157.3,428.4 159.6,427.0 162.5,420.4 165.2,419.5 168.0,419.0 171.0,417.7 174.0,417.5 177.0,415.9 180.0,416.0 184.2,414.6 186.2,368.8 190.0,368.8 192.9,414.6 195.1,416.1 197.3,417.5 200.2,418.4 203.0,419.0 206.0,413.1 210.0,416.0 212.3,416.5 214.7,417.5 217.1,417.3 219.6,417.4 222.0,417.0 224.5,417.3 227.0,417.3 229.5,416.4 232.0,416.0 234.7,414.7 237.3,416.5 240.0,416.0 243.3,414.2 246.6,414.6 249.5,412.3 252.4,410.2 255.2,410.5 258.0,413.0 260.2,414.1 262.5,414.7 264.8,416.5 267.0,417.5 269.2,419.9 271.4,417.3 273.6,417.8 275.8,416.1 278.0,417.0 280.4,416.6 282.8,417.1 285.2,416.3 287.6,416.5 290.0,416.0 292.7,415.4 295.3,413.9 298.0,414.0 300.2,414.1 302.4,412.8 304.6,413.1 307.0,405.9 309.5,408.4 312.0,408.0 314.3,407.9 316.7,409.0 319.0,408.8 323.0,411.0 325.4,412.8 327.8,414.6 330.9,414.0 334.0,412.0 330.0,414.6 332.5,413.6 335.1,414.3 337.6,413.0 340.2,412.6 342.7,412.8 345.2,411.6 347.8,410.5 350.3,409.7 354.7,412.6 359.0,411.7 361.9,410.7 364.8,410.8 367.7,412.7 370.6,413.7 373.5,414.6 376.4,416.3 379.3,415.3 382.2,416.0 384.5,417.0 386.9,417.6 389.2,418.0 391.5,418.5 393.8,418.9 396.7,418.6 399.6,417.5 402.5,417.5 404.8,416.2 407.2,416.0 409.5,416.2 411.8,416.3 414.1,414.6 417.0,415.8 419.9,415.5 422.8,416.5 425.7,416.0 428.6,415.5 431.5,413.7 434.4,414.0 437.3,413.1 441.7,414.0 444.6,411.7 448.9,414.6 451.8,417.5 454.7,420.5 457.6,423.3 460.5,424.4 463.4,425.6 466.4,424.7 469.3,425.0 472.2,425.2 475.1,426.2 478.0,431.3 480.9,433.4 483.3,436.1 485.7,439.0 488.1,440.7 491.0,441.8 493.9,440.8 496.8,442.2 499.2,444.5 501.6,444.5 504.1,443.6 508.4,442.7 512.8,445.9 515.0,446.1 517.3,446.5 519.5,446.0 521.8,445.3 524.0,445.8 526.3,446.2 528.6,446.8 530.8,446.5 533.1,445.9 535.6,446.1 538.0,447.3 540.5,445.9 543.0,447.2 545.5,447.6 548.0,446.7 550.5,447.1 552.8,446.8 555.1,447.0 557.4,447.8 559.8,447.0 562.1,448.0 564.5,448.1 566.9,447.6 569.3,449.1 571.8,449.0 574.2,449.6 576.6,449.4 579.0,449.3 581.4,449.6 583.8,449.5 586.3,449.3 588.7,449.7 591.1,449.7 593.3,449.3 595.6,449.6 597.8,449.9 600.0,449.7 602.3,449.6 604.5,450.2 606.7,449.7 608.9,449.5 611.2,449.8 613.4,449.5 615.6,449.6 617.9,449.6 620.1,449.7 622.4,450.2 624.6,449.7 626.9,449.8 629.1,450.0 631.4,450.2 633.6,449.7 635.9,449.6 638.2,450.2 640.4,449.3 642.7,449.7 644.9,450.1 647.2,450.2 649.4,449.6 651.7,449.1 654.0,450.2 656.2,449.8 658.5,449.8 660.7,450.0" fill="none" stroke="#ff9626" stroke-width="1.7" stroke-linejoin="round"/>
<polyline points="65.3,501.2 69.6,501.2 71.1,564.4 73.2,562.2 75.4,560.1 78.2,557.4 81.2,555.9 84.0,555.7 140.7,555.7 141.6,609.4 142.7,586.2 145.0,587.6 147.4,546.2 150.3,600.7 155.2,573.1 159.6,555.7 172.6,555.7 176.1,609.4 184.8,555.7 186.2,609.4 191.5,608.0 204.5,555.7 206.6,602.2 219.0,555.7 220.5,609.4 223.4,606.5 227.7,609.4 229.2,606.5 248.0,603.6 249.5,555.7 251.8,610.3 255.3,580.4 262.5,587.6 264.0,600.7 264.9,483.2 271.2,535.4 272.7,610.3 279.1,555.7 280.8,608.0 286.6,581.8 290.1,608.0 293.0,609.4 296.5,555.7 299.4,609.4 307.5,590.5 320.6,555.7 322.0,609.4 336.4,405.9 342.2,606.5 345.1,555.2 359.0,555.7 364.2,540.7 367.7,555.2 383.7,555.7 392.4,589.1 411.2,610.3 418.5,554.3 422.8,599.8 424.3,545.0 435.9,555.2 437.3,606.5 441.7,603.6 442.6,471.6 445.5,599.3 446.9,545.6 448.9,605.0 455.3,554.2 466.4,540.7 469.3,597.8 472.5,584.0 476.0,572.0 480.0,562.5 485.2,556.2 488.0,555.7 507.0,555.7 508.5,558.0 510.0,565.0 511.3,569.7 515.7,571.7 520.0,574.0 530.0,583.0 541.8,593.4 543.2,473.1 546.1,555.7 567.9,610.3 569.5,604.0 570.5,599.0 572.0,596.5 573.7,595.8 578.0,597.5 585.0,601.5 594.0,605.6 605.0,606.5 625.9,607.4 632.3,555.7 640.4,568.8 650.6,608.0 654.9,555.7" fill="none" stroke="#2b8ac6" stroke-width="1.5" stroke-linejoin="round"/>
<rect x="444.5" y="144.5" width="7.9" height="478" fill="none" stroke="#b4b4b4" stroke-width="1"/>
<circle cx="65.3" cy="630.6" r="3.4" fill="#8ec2e4"/>
<circle cx="69.6" cy="630.6" r="3.4" fill="#8ec2e4"/>
<circle cx="82.1" cy="630.6" r="3.4" fill="#8ec2e4"/>
<circle cx="87.9" cy="630.6" r="3.4" fill="#8ec2e4"/>
<circle cx="107.3" cy="630.6" r="3.4" fill="#8ec2e4"/>
<circle cx="111.7" cy="630.6" r="3.4" fill="#8ec2e4"/>
<circle cx="130.0" cy="630.6" r="3.4" fill="#8ec2e4"/>
<circle cx="140.1" cy="630.6" r="3.4" fill="#8ec2e4"/>
<circle cx="148.0" cy="630.6" r="3.4" fill="#8ec2e4"/>
<circle cx="161.0" cy="630.6" r="3.4" fill="#8ec2e4"/>
<circle cx="169.7" cy="630.6" r="3.4" fill="#8ec2e4"/>
<circle cx="172.6" cy="630.6" r="3.4" fill="#8ec2e4"/>
<circle cx="184.8" cy="630.6" r="3.4" fill="#8ec2e4"/>
<circle cx="205.1" cy="630.6" r="3.4" fill="#8ec2e4"/>
<circle cx="219.0" cy="630.6" r="3.4" fill="#8ec2e4"/>
<circle cx="249.5" cy="630.6" r="3.4" fill="#8ec2e4"/>
<circle cx="264.0" cy="630.6" r="3.4" fill="#8ec2e4"/>
<circle cx="266.0" cy="630.6" r="3.4" fill="#8ec2e4"/>
<circle cx="271.2" cy="630.6" r="3.4" fill="#8ec2e4"/>
<circle cx="279.4" cy="630.6" r="3.4" fill="#8ec2e4"/>
<circle cx="296.5" cy="630.6" r="3.4" fill="#8ec2e4"/>
<circle cx="320.6" cy="630.6" r="3.4" fill="#8ec2e4"/>
<circle cx="326.4" cy="630.6" r="3.4" fill="#8ec2e4"/>
<circle cx="345.1" cy="630.6" r="3.4" fill="#8ec2e4"/>
<circle cx="353.2" cy="630.6" r="3.4" fill="#8ec2e4"/>
<circle cx="359.0" cy="630.6" r="3.4" fill="#8ec2e4"/>
<circle cx="368.3" cy="630.6" r="3.4" fill="#8ec2e4"/>
<circle cx="375.0" cy="630.6" r="3.4" fill="#8ec2e4"/>
<circle cx="383.1" cy="630.6" r="3.4" fill="#8ec2e4"/>
<circle cx="417.6" cy="630.6" r="3.4" fill="#8ec2e4"/>
<circle cx="424.3" cy="630.6" r="3.4" fill="#8ec2e4"/>
<circle cx="435.3" cy="630.6" r="3.4" fill="#8ec2e4"/>
<circle cx="446.9" cy="630.6" r="3.4" fill="#8ec2e4"/>
<circle cx="455.6" cy="630.6" r="3.4" fill="#8ec2e4"/>
<circle cx="485.8" cy="630.6" r="3.4" fill="#8ec2e4"/>
<circle cx="504.9" cy="630.6" r="3.4" fill="#8ec2e4"/>
<circle cx="544.1" cy="630.6" r="3.4" fill="#8ec2e4"/>
<circle cx="546.1" cy="630.6" r="3.4" fill="#8ec2e4"/>
<circle cx="632.6" cy="630.6" r="3.4" fill="#8ec2e4"/>
<circle cx="654.3" cy="630.6" r="3.4" fill="#8ec2e4"/>
<polygon points="946.8,334.3 962.5,336.7 976.8,343.7 988.5,354.6 996.4,368.5 1000.0,384.2 998.8,400.2 993.0,415.1 983.1,427.7 969.9,436.8 954.7,441.5 938.9,441.5 923.7,436.8 910.5,427.7 900.6,415.2 894.8,400.2 893.6,384.2 897.2,368.5 905.1,354.6 916.8,343.7 931.1,336.7" fill="none" stroke="#cfcfcf" stroke-width="1"/>
<polygon points="946.8,280.4 978.2,285.2 1006.9,299.1 1030.2,321.0 1046.1,348.8 1053.2,380.1 1050.8,412.2 1039.2,442.1 1019.4,467.2 993.1,485.3 962.7,494.8 930.9,494.8 900.5,485.3 874.2,467.2 854.4,442.1 842.8,412.2 840.4,380.1 847.5,348.8 863.4,321.0 886.7,299.1 915.4,285.2" fill="none" stroke="#cfcfcf" stroke-width="1"/>
<polygon points="946.8,226.5 994.0,233.7 1036.9,254.6 1071.9,287.4 1095.7,329.1 1106.4,376.1 1102.8,424.2 1085.4,469.0 1055.6,506.7 1016.2,533.9 970.6,548.1 923.0,548.1 877.4,533.9 838.0,506.7 808.2,469.1 790.8,424.2 787.2,376.1 797.9,329.1 821.7,287.4 856.7,254.6 899.6,233.7" fill="none" stroke="#cfcfcf" stroke-width="1"/>
<line x1="946.8" y1="388.2" x2="946.8" y2="226.5" stroke="#d4d4d4" stroke-width="1.7"/>
<line x1="946.8" y1="388.2" x2="994.0" y2="233.7" stroke="#cfcfcf" stroke-width="1"/>
<line x1="946.8" y1="388.2" x2="1036.9" y2="254.6" stroke="#cfcfcf" stroke-width="1"/>
<line x1="946.8" y1="388.2" x2="1071.9" y2="287.4" stroke="#cfcfcf" stroke-width="1"/>
<line x1="946.8" y1="388.2" x2="1095.7" y2="329.1" stroke="#cfcfcf" stroke-width="1"/>
<line x1="946.8" y1="388.2" x2="1106.4" y2="376.1" stroke="#cfcfcf" stroke-width="1"/>
<line x1="946.8" y1="388.2" x2="1102.8" y2="424.2" stroke="#cfcfcf" stroke-width="1"/>
<line x1="946.8" y1="388.2" x2="1085.4" y2="469.0" stroke="#cfcfcf" stroke-width="1"/>
<line x1="946.8" y1="388.2" x2="1055.6" y2="506.7" stroke="#cfcfcf" stroke-width="1"/>
<line x1="946.8" y1="388.2" x2="1016.2" y2="533.9" stroke="#cfcfcf" stroke-width="1"/>
<line x1="946.8" y1="388.2" x2="970.6" y2="548.1" stroke="#cfcfcf" stroke-width="1"/>
<line x1="946.8" y1="388.2" x2="923.0" y2="548.1" stroke="#cfcfcf" stroke-width="1"/>
<line x1="946.8" y1="388.2" x2="877.4" y2="533.9" stroke="#cfcfcf" stroke-width="1"/>
<line x1="946.8" y1="388.2" x2="838.0" y2="506.7" stroke="#cfcfcf" stroke-width="1"/>
<line x1="946.8" y1="388.2" x2="808.2" y2="469.1" stroke="#cfcfcf" stroke-width="1"/>
<line x1="946.8" y1="388.2" x2="790.8" y2="424.2" stroke="#cfcfcf" stroke-width="1"/>
<line x1="946.8" y1="388.2" x2="787.2" y2="376.1" stroke="#cfcfcf" stroke-width="1"/>
<line x1="946.8" y1="388.2" x2="797.9" y2="329.1" stroke="#cfcfcf" stroke-width="1"/>
<line x1="946.8" y1="388.2" x2="821.7" y2="287.4" stroke="#cfcfcf" stroke-width="1"/>
<line x1="946.8" y1="388.2" x2="856.7" y2="254.6" stroke="#cfcfcf" stroke-width="1"/>
<line x1="946.8" y1="388.2" x2="899.6" y2="233.7" stroke="#cfcfcf" stroke-width="1"/>
<text x="946.5" y="226" text-anchor="middle" class="rl">Twitter</text>
<text x="996.4" y="232.7" class="rl">Channel 001</text>
<text x="896.9" y="232.7" text-anchor="end" class="rl">StreamingLive</text>
<text x="1042" y="255.2" class="rl">Channel 002</text>
<text x="851.3" y="255.2" text-anchor="end" class="rl">Channel 019</text>
<text x="1079.1" y="284.9" class="rl">Channel 003</text>
<text x="814.2" y="284.9" text-anchor="end" class="rl">Channel 018</text>
<text x="1103.8" y="329.7" class="rl">Channel 004</text>
<text x="789.5" y="329.7" text-anchor="end" class="rl">Channel 017</text>
<text x="1114.9" y="379.6" class="rl">Channel 005</text>
<text x="778.4" y="379.6" text-anchor="end" class="rl">Channel 016</text>
<text x="1111.5" y="430" class="rl">Channel 006</text>
<text x="781.8" y="430" text-anchor="end" class="rl">Channel 015</text>
<text x="1093.2" y="478.1" class="rl">Channel 007</text>
<text x="800.1" y="478.1" text-anchor="end" class="rl">Channel 014</text>
<text x="1061.9" y="517.1" class="rl">Channel 008</text>
<text x="831.4" y="517.1" text-anchor="end" class="rl">Channel 013</text>
<text x="1020.3" y="542.2" class="rl">Channel 009</text>
<text x="873.0" y="542.2" text-anchor="end" class="rl">Channel 012</text>
<text x="971" y="556.5" class="rl">Channel 010</text>
<text x="922.3" y="556.5" text-anchor="end" class="rl">Channel 011</text>
<polygon points="946.8,383.0 988.7,249.3 955.6,373.6 974.4,365.1 964.0,380.6 958.6,386.9 952.5,390.5 948.6,396.8 931.2,490.6 941.9,397.6 932.9,402.3 935.5,392.5 937.0,389.0 943.0,384.0" fill="#2b8ac6" fill-opacity="0.72" stroke="#2b8ac6" stroke-width="1" stroke-linejoin="round"/>
<circle cx="946.8" cy="227.0" r="3.7" fill="#fff" fill-opacity="0.25" stroke="#a8a8a8" stroke-width="0.8"/>
<circle cx="993.4" cy="232.4" r="3.7" fill="#fff" fill-opacity="0.25" stroke="#a8a8a8" stroke-width="0.8"/>
<circle cx="900.2" cy="232.2" r="3.7" fill="#fff" fill-opacity="0.25" stroke="#a8a8a8" stroke-width="0.8"/>
<circle cx="923.3" cy="548.0" r="3.7" fill="#fff" fill-opacity="0.25" stroke="#a8a8a8" stroke-width="0.8"/>
<circle cx="968.3" cy="355" r="3.7" fill="#fff" fill-opacity="0.25" stroke="#a8a8a8" stroke-width="0.8"/>
<circle cx="1001.9" cy="342.5" r="3.7" fill="#fff" fill-opacity="0.25" stroke="#a8a8a8" stroke-width="0.8"/>
<circle cx="970.6" cy="378.4" r="3.7" fill="#fff" fill-opacity="0.25" stroke="#a8a8a8" stroke-width="0.8"/>
<circle cx="933.9" cy="376.9" r="3.7" fill="#fff" fill-opacity="0.25" stroke="#a8a8a8" stroke-width="0.8"/>
<circle cx="939" cy="376" r="3.7" fill="#fff" fill-opacity="0.25" stroke="#a8a8a8" stroke-width="0.8"/>
<circle cx="930" cy="386.3" r="3.7" fill="#fff" fill-opacity="0.25" stroke="#a8a8a8" stroke-width="0.8"/>
<circle cx="917.5" cy="394" r="3.7" fill="#fff" fill-opacity="0.25" stroke="#a8a8a8" stroke-width="0.8"/>
<circle cx="927.7" cy="407.3" r="3.7" fill="#fff" fill-opacity="0.25" stroke="#a8a8a8" stroke-width="0.8"/>
<circle cx="932.3" cy="416.7" r="3.7" fill="#fff" fill-opacity="0.25" stroke="#a8a8a8" stroke-width="0.8"/>
<circle cx="950.3" cy="409.7" r="3.7" fill="#fff" fill-opacity="0.25" stroke="#a8a8a8" stroke-width="0.8"/>
<circle cx="955" cy="402.7" r="3.7" fill="#fff" fill-opacity="0.25" stroke="#a8a8a8" stroke-width="0.8"/>
<circle cx="956.6" cy="397.2" r="3.7" fill="#fff" fill-opacity="0.25" stroke="#a8a8a8" stroke-width="0.8"/>
<circle cx="962.8" cy="387" r="3.7" fill="#fff" fill-opacity="0.25" stroke="#a8a8a8" stroke-width="0.8"/>
<circle cx="928.4" cy="395.6" r="3.7" fill="#fff" fill-opacity="0.25" stroke="#a8a8a8" stroke-width="0.8"/>
<line x1="924" y1="314.6" x2="943.8" y2="377.5" stroke="#ff9626" stroke-width="1.2"/>
<circle cx="924" cy="314.6" r="4" fill="#ff9626"/>
<circle cx="988.7" cy="249.3" r="4.2" fill="#2b8ac6"/>
<circle cx="955.6" cy="373.6" r="4.2" fill="#2b8ac6"/>
<circle cx="974.4" cy="365.1" r="4.2" fill="#2b8ac6"/>
<circle cx="964" cy="380.6" r="4.2" fill="#2b8ac6"/>
<circle cx="958.6" cy="386.9" r="4.2" fill="#2b8ac6"/>
<circle cx="952.5" cy="390.5" r="4.2" fill="#2b8ac6"/>
<circle cx="948.6" cy="396.8" r="4.2" fill="#2b8ac6"/>
<circle cx="941.9" cy="397.6" r="4.2" fill="#2b8ac6"/>
<circle cx="935.5" cy="392.5" r="4.2" fill="#2b8ac6"/>
<circle cx="932.9" cy="402.3" r="4.2" fill="#2b8ac6"/>
<circle cx="931.2" cy="490.6" r="4.2" fill="#2b8ac6"/>
<circle cx="937" cy="389" r="4.2" fill="#2b8ac6"/>
<circle cx="943" cy="384" r="4.2" fill="#2b8ac6"/>
<circle cx="946.6" cy="379" r="4.3" fill="#3cb040"/>
<circle cx="946.6" cy="387.3" r="4.3" fill="#3cb040"/>
</svg>
<svg class="abs" style="left:804px;top:29px" width="295" height="172" viewBox="804 29 295 172">
<defs>
<linearGradient id="gg" x1="0" y1="0" x2="0" y2="1">
<stop offset="0" stop-color="#4e8c28"/>
<stop offset="0.3" stop-color="#45821f"/>
<stop offset="0.52" stop-color="#346c20"/>
<stop offset="0.62" stop-color="#306820"/>
<stop offset="0.8" stop-color="#3a772a"/>
<stop offset="1" stop-color="#417e30"/>
</linearGradient>
<linearGradient id="gl" x1="0" y1="0" x2="1" y2="0">
<stop offset="0" stop-color="#4b8a25" stop-opacity="0.6"/>
<stop offset="0.6" stop-color="#4b8a25" stop-opacity="0"/>
</linearGradient>
<radialGradient id="bg1" cx="0.6" cy="0.3" r="0.8">
<stop offset="0" stop-color="#fafafc"/>
<stop offset="0.45" stop-color="#ebeaee"/>
<stop offset="0.8" stop-color="#d6d0d6"/>
<stop offset="1" stop-color="#aaa4aa"/>
</radialGradient>
<filter id="gt" x="0" y="0" width="1" height="1"><feTurbulence type="fractalNoise" baseFrequency="0.35" numOctaves="2" seed="4" result="n"/><feColorMatrix in="n" type="matrix" values="0 0 0 0 0.1  0 0 0 0 0.25  0 0 0 0 0.08  0 0 0 1.2 -0.45"/></filter>
<clipPath id="nc"><polygon points="807,31 936,31 942,48 946,60 958,66 964,80 966,105 962,126 952,140 935,158 900,200 807,200"/></clipPath>
<clipPath id="ic"><rect x="807" y="31" width="289" height="168.5"/></clipPath>
<clipPath id="bc"><ellipse cx="933" cy="102.3" rx="34" ry="40" transform="rotate(12 933 102.3)"/></clipPath>
</defs>
<rect x="804" y="29" width="295" height="172" fill="#dedede"/>
<g clip-path="url(#ic)">
<rect x="807" y="31" width="289" height="168.5" fill="url(#gg)"/>
<rect x="807" y="31" width="289" height="168.5" fill="url(#gl)"/>
<rect x="807" y="31" width="289" height="168.5" filter="url(#gt)" opacity="0.5"/>
<path d="M807 158 L862 200 L848 200 L807 168Z" fill="#c9cfc4" opacity="0.75"/>
<g clip-path="url(#nc)"><path d="M781.8 20.8L790.8 7.0 M989.9 231.5L994.9 221.9 M1027.8 213.5L994.9 221.9 M1014.2 181.4L988.9 190.8 M988.9 190.8L988.5 192.2 M1027.8 213.5L995.3 206.4 M988.5 192.2L995.3 206.4 M798.5 57.1L784.0 64.2 M798.5 57.1L796.0 38.8 M786.3 33.7L796.0 38.8 M747.4 59.6L784.0 64.2 M792.6 89.7L790.6 88.9 M792.6 89.7L808.1 82.3 M790.6 88.9L784.0 64.2 M808.1 82.3L804.3 59.9 M804.3 59.9L798.5 57.1 M754.7 98.0L790.6 88.9 M992.1 -1.5L993.8 1.0 M992.1 -1.5L983.0 -3.8 M983.0 -3.8L980.9 -1.1 M980.9 -1.1L984.5 13.9 M984.5 13.9L989.5 13.7 M993.8 1.0L989.5 13.7 M1014.2 181.4L995.0 170.9 M988.9 190.8L980.9 182.8 M995.0 170.9L981.4 178.0 M980.9 182.8L981.4 178.0 M804.3 59.9L819.9 56.6 M796.0 38.8L809.4 29.6 M809.4 29.6L823.7 39.6 M823.7 39.6L819.9 56.6 M810.5 20.9L826.9 12.6 M810.5 20.9L796.9 5.5 M826.9 12.6L812.9 -19.3 M796.9 5.5L812.9 -19.3 M838.7 32.2L828.6 13.1 M838.7 32.2L837.4 34.1 M809.4 29.6L810.5 20.9 M828.6 13.1L826.9 12.6 M837.4 34.1L823.7 39.6 M781.8 20.8L786.3 33.7 M790.8 7.0L796.9 5.5 M842.3 4.5L828.6 13.1 M842.3 4.5L855.4 9.6 M868.6 -19.4L855.4 9.6 M838.7 32.2L851.3 28.6 M851.3 28.6L857.2 13.6 M855.4 9.6L857.2 13.6 M944.1 84.7L957.4 84.8 M944.1 84.7L948.0 101.0 M948.0 101.0L959.5 90.8 M957.4 84.8L959.5 90.8 M980.6 16.5L984.5 13.9 M980.6 16.5L981.5 28.0 M989.5 13.7L1006.5 23.4 M981.5 28.0L989.7 32.9 M989.7 32.9L1006.5 23.4 M995.0 170.9L991.3 163.5 M999.2 153.9L991.3 163.5 M894.5 58.0L876.7 49.1 M894.5 58.0L887.6 70.6 M876.7 49.1L867.6 62.9 M867.6 62.9L874.2 69.9 M887.6 70.6L874.2 69.9 M876.7 49.1L875.0 38.6 M875.0 38.6L860.8 37.4 M860.8 37.4L852.0 58.9 M867.6 62.9L858.6 63.1 M852.0 58.9L858.6 63.1 M860.8 37.4L851.3 28.6 M837.4 34.1L845.4 58.7 M852.0 58.9L845.4 58.7 M819.9 56.6L833.4 66.2 M845.4 58.7L833.4 66.2 M897.1 0.1L908.8 4.1 M908.8 4.1L918.4 -3.8 M868.6 -19.4L879.8 -0.4 M857.2 13.6L873.6 15.9 M873.6 15.9L879.8 -0.4 M897.1 0.1L892.9 2.8 M892.9 2.8L879.8 -0.4 M991.2 101.7L991.2 85.3 M991.7 84.6L991.2 85.3 M980.9 -1.1L970.1 2.5 M980.6 16.5L971.8 14.5 M970.1 2.5L971.8 14.5 M918.4 -3.8L927.1 2.1 M927.1 2.1L939.0 -4.1 M982.2 42.9L989.7 33.1 M982.2 42.9L984.6 49.8 M989.7 33.1L996.4 48.2 M984.6 49.8L991.3 52.4 M991.3 52.4L996.4 48.2 M981.5 28.0L970.0 32.9 M970.0 32.9L971.7 40.4 M971.7 40.4L982.2 42.9 M989.7 32.9L989.7 33.1 M971.7 40.4L970.1 43.5 M970.1 43.5L975.3 56.0 M975.3 56.0L984.6 49.8 M908.8 4.1L910.1 15.2 M927.1 2.1L928.1 9.9 M928.1 9.9L915.1 18.6 M915.1 18.6L910.1 15.2 M930.1 36.1L930.1 52.6 M930.1 36.1L926.4 32.1 M926.4 32.1L918.9 31.1 M930.1 52.6L919.8 53.3 M919.8 53.3L911.7 37.1 M918.9 31.1L911.7 37.1 M942.2 65.9L938.9 53.8 M942.2 65.9L949.0 69.1 M949.0 69.1L950.7 68.7 M950.7 68.7L954.2 57.2 M950.9 53.6L941.3 52.5 M950.9 53.6L954.2 57.2 M941.3 52.5L938.9 53.8 M941.8 83.2L949.0 69.1 M941.8 83.2L944.1 84.7 M961.1 76.2L957.4 84.8 M961.1 76.2L959.4 73.6 M959.4 73.6L950.7 68.7 M959.4 73.6L966.0 59.5 M962.0 56.4L966.0 59.5 M962.0 56.4L954.2 57.2 M963.3 46.8L962.0 56.4 M963.3 46.8L955.2 42.5 M955.2 42.5L950.9 53.6 M930.1 36.1L945.2 37.0 M930.1 52.6L930.2 52.7 M945.2 37.0L941.3 52.5 M930.2 52.7L938.9 53.8 M999.2 153.9L992.4 148.3 M992.4 148.3L997.2 135.3 M975.4 168.7L981.4 178.0 M975.4 168.7L976.7 165.3 M991.3 163.5L986.3 161.5 M976.7 165.3L986.3 161.5 M992.4 148.3L984.5 149.2 M986.3 161.5L984.5 149.2 M997.2 135.3L988.9 131.7 M988.9 131.7L981.2 147.0 M981.2 147.0L984.5 149.2 M986.9 129.0L983.7 127.6 M986.9 129.0L996.8 117.1 M983.7 127.6L982.9 113.7 M996.8 117.1L987.9 110.8 M987.9 110.8L982.9 113.7 M988.9 131.7L986.9 129.0 M989.9 102.5L991.2 101.7 M989.9 102.5L987.9 110.8 M910.4 63.2L919.8 53.3 M910.4 63.2L911.4 65.9 M930.2 52.7L929.0 69.8 M911.4 65.9L924.0 71.9 M924.0 71.9L929.0 69.8 M942.2 65.9L932.9 70.8 M932.9 70.8L929.0 69.8 M941.8 83.2L939.9 83.3 M932.9 70.8L939.9 83.3 M934.9 96.4L925.9 101.6 M934.9 96.4L936.2 85.9 M925.9 101.6L920.5 87.0 M936.2 85.9L923.2 84.5 M920.5 87.0L923.2 84.5 M948.0 101.0L947.3 102.8 M947.3 102.8L934.9 96.4 M939.9 83.3L936.2 85.9 M925.3 103.3L925.9 101.6 M925.3 103.3L907.1 104.8 M913.3 87.3L907.1 104.8 M913.3 87.3L920.5 87.0 M924.0 71.9L923.2 84.5 M911.4 65.9L905.1 80.7 M905.1 80.7L913.3 87.3 M989.9 231.5L983.8 231.7 M983.8 231.7L977.7 237.6 M994.9 221.9L986.5 216.6 M983.8 231.7L980.9 221.4 M980.9 221.4L986.5 216.6 M995.3 206.4L986.6 210.7 M986.5 216.6L986.6 210.7 M778.2 196.4L790.2 181.1 M789.0 171.6L790.2 181.1 M791.0 222.5L796.6 217.5 M796.6 217.5L778.2 196.4 M796.6 217.5L805.4 216.0 M804.4 190.6L805.4 216.0 M804.4 190.6L790.2 181.1 M798.4 161.5L784.8 135.7 M798.4 161.5L789.0 171.6 M912.6 263.3L908.1 243.2 M840.4 417.7L844.9 387.1 M908.1 243.2L892.0 227.8 M892.0 227.8L876.7 245.6 M835.3 216.2L826.1 211.4 M826.1 211.4L807.1 216.7 M805.4 216.0L807.1 216.7 M962.0 156.0L959.3 155.6 M962.0 156.0L962.7 169.9 M962.7 169.9L953.8 172.6 M951.6 160.6L959.3 155.6 M951.6 160.6L953.7 172.6 M953.7 172.6L953.8 172.6 M912.6 263.3L927.6 231.9 M927.6 231.9L939.0 233.2 M950.4 233.6L941.0 231.3 M950.4 233.6L956.9 247.9 M939.0 233.2L941.0 231.3 M967.6 94.0L976.6 100.1 M967.6 94.0L974.4 84.8 M982.2 88.7L974.4 84.8 M982.2 88.7L979.9 98.8 M979.9 98.8L976.6 100.1 M961.1 76.2L972.4 76.7 M959.5 90.8L965.4 94.3 M965.4 94.3L967.6 94.0 M972.4 76.7L974.4 84.8 M989.9 102.5L979.9 98.8 M991.2 85.3L982.2 88.7 M973.7 110.5L976.6 100.1 M973.7 110.5L982.9 113.7 M991.7 84.6L991.0 82.4 M991.0 82.4L996.3 66.0 M991.3 52.4L992.3 63.3 M996.3 66.0L992.3 63.3 M968.6 1.6L959.6 4.1 M968.6 1.6L962.0 -23.3 M959.6 4.1L953.1 -0.9 M962.0 -23.3L953.1 -0.9 M970.1 2.5L968.6 1.6 M939.0 -4.1L945.6 1.5 M945.6 1.5L953.1 -0.9 M945.2 37.0L947.5 35.6 M955.2 42.5L952.9 37.6 M947.5 35.6L952.9 37.6 M900.8 41.4L905.3 38.1 M900.8 41.4L880.2 32.7 M905.3 38.1L898.3 20.2 M880.2 32.7L881.2 24.7 M881.2 24.7L892.3 18.6 M892.3 18.6L898.3 20.2 M910.4 63.2L898.0 56.5 M898.0 56.5L900.8 41.4 M911.7 37.1L905.3 38.1 M894.5 58.0L898.0 56.5 M875.0 38.6L880.2 32.7 M915.1 18.6L918.9 31.1 M910.1 15.2L898.3 20.2 M873.6 15.9L881.2 24.7 M892.9 2.8L892.3 18.6 M975.4 168.7L966.8 171.6 M962.0 156.0L967.4 153.3 M962.7 169.9L966.8 171.6 M976.7 165.3L970.4 153.7 M967.4 153.3L970.4 153.7 M981.2 147.0L978.8 147.0 M970.4 153.7L978.8 147.0 M922.5 121.4L920.2 122.8 M922.5 121.4L926.4 105.8 M925.3 103.3L926.4 105.8 M907.1 104.8L906.0 105.5 M906.0 105.5L915.8 122.5 M920.2 122.8L915.8 122.5 M784.8 116.0L797.7 106.8 M784.8 116.0L786.4 133.6 M786.4 133.6L809.5 130.0 M809.5 130.0L807.9 110.5 M797.7 106.8L807.9 110.5 M754.7 98.0L784.8 116.0 M792.6 89.7L797.7 106.8 M784.8 135.7L786.4 133.6 M874.2 69.9L870.1 89.6 M858.6 63.1L855.0 86.3 M855.0 86.3L870.1 89.6 M986.7 65.1L981.4 74.5 M986.7 65.1L974.0 59.3 M973.3 59.7L974.0 59.3 M973.3 59.7L973.2 75.9 M973.2 75.9L981.4 74.5 M991.0 82.4L981.4 74.5 M992.3 63.3L986.7 65.1 M975.3 56.0L974.0 59.3 M963.3 46.8L970.1 43.5 M966.0 59.5L973.3 59.7 M972.4 76.7L973.2 75.9 M968.7 16.8L956.8 16.7 M968.7 16.8L969.7 32.7 M969.7 32.7L962.1 32.0 M962.1 32.0L956.1 17.2 M956.8 16.7L956.1 17.2 M971.8 14.5L968.7 16.8 M959.6 4.1L956.8 16.7 M970.0 32.9L969.7 32.7 M952.9 37.6L962.1 32.0 M946.5 25.1L954.7 17.3 M946.5 25.1L935.4 20.1 M954.7 17.3L945.2 8.2 M945.2 8.2L934.6 15.5 M935.4 20.1L934.6 15.5 M947.5 35.6L946.5 25.1 M956.1 17.2L954.7 17.3 M926.4 32.1L935.4 20.1 M945.6 1.5L945.2 8.2 M928.1 9.9L934.6 15.5 M932.9 122.5L939.0 135.9 M932.9 122.5L937.9 117.8 M937.9 117.8L946.0 120.4 M946.0 120.4L947.0 132.3 M947.0 132.3L941.4 135.9 M939.0 135.9L941.4 135.9 M922.5 121.4L932.9 122.5 M926.4 105.8L937.4 110.7 M937.4 110.7L937.9 117.8 M947.9 147.6L952.9 147.7 M947.9 147.6L941.4 135.9 M952.9 147.7L959.7 138.2 M947.0 132.3L952.9 132.5 M952.9 132.5L959.7 138.2 M959.3 155.6L952.9 147.7 M967.4 153.3L962.4 138.4 M962.4 138.4L959.7 138.2 M950.2 117.1L947.3 103.0 M950.2 117.1L956.0 118.3 M956.0 118.3L962.6 108.6 M947.3 102.9L947.3 103.0 M947.3 102.9L961.9 107.5 M961.9 107.5L962.6 108.6 M937.4 110.7L947.3 103.0 M946.0 120.4L950.2 117.1 M958.7 122.9L952.9 132.5 M958.7 122.9L956.0 118.3 M947.3 102.8L947.3 102.9 M965.4 94.3L961.9 107.5 M973.7 110.5L970.8 112.0 M970.8 112.0L962.6 108.6 M920.2 122.8L925.1 138.3 M939.0 135.9L932.7 140.0 M932.7 140.0L925.1 138.3 M950.4 233.6L958.0 225.3 M940.9 221.0L941.0 231.3 M940.9 221.0L950.4 214.5 M950.4 214.5L956.8 217.6 M958.0 225.3L956.8 217.6 M956.9 247.9L965.8 231.0 M958.0 225.3L965.8 231.0 M977.7 237.6L969.1 230.8 M965.8 231.0L969.1 230.8 M980.9 221.4L973.8 219.7 M969.1 230.8L973.8 219.7 M804.4 190.6L823.7 183.1 M826.1 211.4L828.8 184.3 M823.7 183.1L828.8 184.3 M798.4 161.5L806.7 159.8 M823.7 183.1L806.7 159.8 M833.4 66.2L832.4 78.2 M855.0 86.3L846.8 89.9 M846.8 89.9L832.4 78.2 M808.1 82.3L818.4 86.8 M807.9 110.5L819.3 103.5 M819.3 103.5L818.4 86.8 M818.4 86.8L832.4 78.2 M887.6 70.6L893.4 82.9 M870.1 89.6L875.4 95.2 M875.4 95.2L893.4 82.9 M905.1 80.7L894.7 83.3 M893.4 82.9L894.7 83.3 M906.0 105.5L901.8 105.6 M894.7 83.3L901.8 105.6 M969.6 122.3L967.2 124.1 M969.6 122.3L981.7 127.9 M967.2 124.1L966.1 136.2 M981.7 127.9L973.0 137.4 M973.0 137.4L966.1 136.2 M970.8 112.0L969.6 122.3 M958.7 122.9L967.2 124.1 M983.7 127.6L981.7 127.9 M962.4 138.4L966.1 136.2 M978.8 147.0L973.0 137.4 M956.8 217.6L961.5 215.2 M973.8 219.7L971.8 216.8 M971.8 216.8L961.5 215.2 M986.6 210.7L977.6 204.2 M971.8 216.8L977.6 204.2 M988.5 192.2L977.1 202.8 M977.1 202.8L977.6 204.2 M951.3 190.9L956.7 198.6 M951.3 190.9L959.4 184.6 M956.7 198.6L965.7 199.8 M959.4 184.6L967.0 185.3 M969.2 187.3L967.0 185.3 M969.2 187.3L968.8 198.4 M968.8 198.4L965.7 199.8 M941.5 203.6L948.9 209.2 M941.5 203.6L946.3 189.7 M948.9 209.2L956.7 198.6 M946.3 189.7L951.3 190.9 M953.7 172.6L945.4 175.4 M953.8 172.6L959.4 184.6 M946.3 189.7L942.0 185.1 M942.0 185.1L945.4 175.4 M950.4 214.5L948.9 209.2 M961.5 215.2L965.7 199.8 M966.8 171.6L967.0 185.3 M980.9 182.8L969.2 187.3 M977.1 202.8L968.8 198.4 M809.5 130.0L811.2 131.3 M806.7 159.8L813.9 152.9 M811.2 131.3L813.9 152.9 M828.8 184.3L830.0 183.7 M830.0 183.7L834.4 153.5 M813.9 152.9L834.4 153.5 M940.9 221.0L931.2 216.5 M941.5 203.6L937.0 203.9 M937.0 203.9L931.2 216.5 M939.3 168.3L928.7 169.6 M939.3 168.3L942.1 157.6 M933.3 152.6L922.7 158.7 M933.3 152.6L941.7 156.6 M922.7 158.7L928.7 169.6 M941.7 156.6L942.1 157.6 M951.6 160.6L942.1 157.6 M945.4 175.4L939.3 168.3 M947.9 147.6L941.7 156.6 M932.7 140.0L933.3 152.6 M827.0 128.3L842.4 140.4 M827.0 128.3L831.4 109.5 M854.3 116.2L845.6 138.4 M854.3 116.2L844.2 106.6 M845.6 138.4L842.4 140.4 M831.4 109.5L844.2 106.6 M811.2 131.3L827.0 128.3 M838.6 151.0L834.4 153.5 M838.6 151.0L842.4 140.4 M819.3 103.5L831.4 109.5 M858.2 115.9L875.8 126.6 M858.2 115.9L854.3 116.2 M866.4 144.0L875.8 126.6 M866.4 144.0L845.6 138.4 M846.8 89.9L844.2 106.6 M875.4 95.2L875.5 95.9 M858.2 115.9L875.5 95.9 M838.6 151.0L857.9 168.5 M866.4 144.0L868.9 149.1 M868.9 149.1L857.9 168.5 M830.0 183.7L844.9 184.9 M844.9 184.9L858.4 170.4 M857.9 168.5L858.4 170.4 M835.3 216.2L839.2 215.9 M844.9 184.9L854.6 201.5 M854.6 201.5L839.2 215.9 M839.2 215.9L852.9 229.2 M901.1 105.9L882.8 103.9 M901.1 105.9L893.6 126.2 M882.8 103.9L880.9 125.8 M893.6 126.2L886.7 128.1 M886.7 128.1L880.9 125.8 M901.8 105.6L901.1 105.9 M875.5 95.9L882.8 103.9 M915.8 122.5L905.1 130.8 M905.1 130.8L893.6 126.2 M875.8 126.6L880.9 125.8 M942.0 185.1L935.8 186.1 M937.0 203.9L927.6 196.4 M927.6 196.4L935.8 186.1 M928.7 169.6L925.9 176.4 M935.8 186.1L925.9 176.4 M927.6 196.4L924.9 196.9 M915.3 180.4L915.2 185.3 M915.3 180.4L925.9 176.4 M915.2 185.3L924.9 196.9 M868.9 149.1L881.9 153.0 M886.7 128.1L888.5 147.9 M888.5 147.9L881.9 153.0 M864.5 200.6L860.0 202.6 M864.5 200.6L877.7 202.7 M860.0 202.6L865.7 221.4 M877.7 202.7L885.9 215.4 M885.9 215.4L870.4 223.2 M870.4 223.2L865.7 221.4 M872.7 176.8L858.4 170.4 M872.7 176.8L864.5 200.6 M854.6 201.5L860.0 202.6 M852.9 229.2L865.7 221.4 M892.0 227.8L892.1 219.6 M876.7 245.6L870.4 223.2 M892.1 219.6L888.5 216.2 M888.5 216.2L885.9 215.4 M919.2 204.7L909.8 204.8 M919.2 204.7L925.0 217.6 M909.8 204.8L903.9 217.7 M903.9 217.7L913.6 224.6 M913.6 224.6L922.0 222.1 M922.0 222.1L925.0 217.6 M902.7 196.5L909.8 204.8 M902.7 196.5L915.2 185.3 M924.9 196.9L919.2 204.7 M931.2 216.5L925.0 217.6 M892.1 219.6L903.9 217.7 M898.7 195.7L888.5 216.2 M898.7 195.7L902.7 196.5 M908.1 243.2L913.6 224.6 M927.6 231.9L922.0 222.1 M902.1 160.2L899.9 150.3 M902.1 160.2L911.1 164.7 M921.2 158.3L914.7 144.9 M921.2 158.3L911.1 164.7 M899.9 150.3L908.5 143.0 M914.7 144.9L908.5 143.0 M925.1 138.3L914.7 144.9 M922.7 158.7L921.2 158.3 M915.3 180.4L911.2 176.6 M911.2 176.6L911.1 164.7 M905.1 130.8L908.5 143.0 M888.5 147.9L899.9 150.3 M892.3 169.6L883.5 167.9 M892.3 169.6L898.4 178.3 M898.4 178.3L893.8 190.7 M873.5 176.7L883.5 167.9 M873.5 176.7L886.6 190.5 M886.6 190.5L893.8 190.7 M881.9 153.0L883.5 167.9 M902.1 160.2L892.3 169.6 M911.2 176.6L898.4 178.3 M898.7 195.7L893.8 190.7 M872.7 176.8L873.5 176.7 M877.7 202.7L886.6 190.5" stroke="#d4d8e2" stroke-width="0.9" fill="none" opacity="0.75"/><path d="M792.6 163.0L795.4 166.1 M795.4 166.1L797.8 181.8 M797.8 181.8L790.8 192.2 M792.6 163.0L789.9 144.0 M789.9 144.0L788.4 142.6 M823.0 108.9L817.7 120.7 M823.0 108.9L842.5 102.9 M817.7 120.7L817.8 121.0 M842.5 102.9L847.2 105.0 M817.8 121.0L837.2 130.6 M837.2 130.6L852.5 118.3 M847.2 105.0L852.5 118.3 M830.0 181.0L849.0 180.5 M830.0 181.0L820.9 157.6 M842.0 148.2L840.6 147.6 M842.0 148.2L850.9 177.7 M840.6 147.6L822.8 153.5 M820.9 157.6L822.8 153.5 M850.9 177.7L849.0 180.5 M795.4 166.1L820.9 157.6 M823.4 186.3L797.8 181.8 M823.4 186.3L830.0 181.0 M866.6 141.6L866.9 138.3 M866.6 141.6L842.0 148.2 M866.9 138.3L858.4 121.4 M837.2 130.6L840.6 147.6 M858.4 121.4L852.5 118.3 M812.1 136.5L817.8 121.0 M812.1 136.5L822.8 153.5 M789.9 144.0L812.1 136.5 M830.8 218.0L840.7 217.6 M858.9 247.8L840.7 217.6 M866.6 141.6L870.7 147.1 M870.7 147.1L871.1 151.3 M850.9 177.7L860.8 173.0 M871.1 151.3L860.8 173.0 M790.8 194.4L804.1 213.4 M790.8 194.4L766.5 216.7 M782.3 226.8L799.0 222.4 M782.3 226.8L766.5 216.7 M799.0 222.4L804.1 213.4 M822.2 211.3L823.4 186.3 M822.2 211.3L804.1 213.4 M790.8 192.2L790.8 194.4 M830.8 218.0L822.2 211.3 M823.0 108.9L813.9 89.3 M813.9 89.3L814.2 88.2 M842.5 102.9L835.5 75.6 M835.5 75.6L814.2 88.2 M792.8 113.0L786.9 116.7 M792.8 113.0L795.3 97.2 M795.3 97.2L782.6 84.4 M817.7 120.7L792.8 113.0 M788.4 142.6L786.9 116.7 M813.9 89.3L795.3 97.2 M884.1 124.7L866.9 138.3 M884.1 124.7L884.9 116.1 M858.4 121.4L873.6 111.0 M873.6 111.0L884.9 116.1 M855.8 200.7L883.2 193.0 M855.8 200.7L855.2 204.4 M855.2 204.4L875.7 221.8 M883.2 193.0L887.5 197.3 M887.5 197.3L886.0 215.0 M886.0 215.0L880.4 221.1 M875.7 221.8L880.4 221.1 M849.0 180.5L855.8 200.7 M860.8 173.0L882.3 179.5 M882.3 179.5L883.2 193.0 M840.7 217.6L855.2 204.4 M858.9 247.8L875.7 221.8 M858.0 41.4L852.7 31.3 M858.0 41.4L856.7 47.6 M856.7 47.6L835.1 64.5 M835.1 64.5L822.8 53.6 M822.8 53.6L838.9 24.3 M852.7 31.3L838.9 24.3 M886.1 -0.2L872.4 7.5 M886.1 -0.2L896.8 5.8 M872.6 13.6L872.4 7.5 M872.6 13.6L886.8 27.4 M889.8 26.4L886.8 27.4 M889.8 26.4L898.5 12.1 M898.5 12.1L896.8 5.8 M863.6 -0.7L872.4 7.5 M863.6 -0.7L847.7 3.2 M847.7 3.2L838.3 23.3 M852.7 31.3L872.6 13.6 M838.9 24.3L838.3 23.3 M881.9 40.3L886.8 27.4 M881.9 40.3L858.0 41.4 M896.8 5.8L905.5 -1.7 M829.5 -22.3L847.7 3.2 M814.2 88.2L802.1 69.3 M782.6 84.4L784.9 77.3 M802.1 69.3L784.9 77.3 M776.1 63.3L784.9 77.3 M799.6 2.5L790.2 19.3 M829.5 -22.3L818.8 6.8 M799.6 2.5L818.8 6.8 M838.3 23.3L822.9 16.5 M818.8 6.8L822.9 16.5 M871.1 151.3L886.5 164.8 M882.3 179.5L886.3 175.3 M886.3 175.3L886.5 164.8 M899.4 195.8L905.3 176.8 M899.4 195.8L887.5 197.3 M886.3 175.3L905.3 176.8 M870.7 147.1L890.2 144.5 M886.5 164.8L899.2 155.1 M899.2 155.1L890.2 144.5 M884.1 124.7L894.8 134.1 M894.8 134.1L890.2 144.5 M873.6 111.0L870.0 92.4 M884.9 116.1L892.7 110.8 M892.7 110.8L892.9 110.2 M892.9 110.2L886.7 92.1 M886.7 92.1L870.0 92.4 M856.7 47.6L870.5 68.4 M836.8 72.9L835.1 64.5 M836.8 72.9L863.8 78.9 M870.5 68.4L863.8 78.9 M847.2 105.0L866.7 90.1 M835.5 75.6L836.8 72.9 M863.8 78.9L866.7 90.1 M866.7 90.1L870.0 92.4 M991.8 228.4L990.1 229.1 M1014.0 200.9L992.4 210.9 M1014.0 200.9L988.1 192.5 M988.1 192.5L983.0 195.1 M983.0 195.1L985.1 209.0 M992.4 210.9L985.1 209.0 M988.1 192.5L988.9 183.4 M988.9 183.4L1009.2 180.0 M983.0 195.1L979.3 193.7 M988.9 183.4L983.2 178.1 M979.3 193.7L975.7 179.6 M975.7 179.6L983.2 178.1 M1009.2 180.0L988.3 170.4 M983.2 178.1L988.3 170.4 M988.3 170.4L987.8 164.6 M880.4 221.1L896.3 241.2 M899.4 195.8L904.5 198.8 M886.0 215.0L907.4 216.8 M904.5 198.8L907.4 216.8 M909.4 222.1L896.3 241.2 M909.4 222.1L908.2 217.5 M908.2 217.5L907.4 216.8 M909.4 222.1L920.2 229.0 M923.9 249.6L920.2 229.0 M937.1 232.3L933.0 224.5 M937.1 232.3L923.9 249.6 M920.2 229.0L928.9 223.2 M928.9 223.2L933.0 224.5 M942.0 3.9L948.4 -6.2 M942.0 3.9L933.9 -1.7 M963.7 -1.1L959.9 -0.2 M948.4 -6.2L959.9 -0.2 M963.7 -1.1L969.5 2.2 M983.3 -31.9L975.3 2.2 M969.5 2.2L975.3 2.2 M943.0 9.1L952.2 10.2 M943.0 9.1L939.3 14.0 M939.3 14.0L939.5 19.5 M939.5 19.5L947.3 25.8 M952.2 10.2L957.5 16.3 M947.3 25.8L956.0 24.9 M957.5 16.3L956.0 24.9 M942.0 3.9L943.0 9.1 M959.9 -0.2L952.2 10.2 M930.2 33.6L928.8 30.7 M930.2 33.6L944.3 35.4 M928.8 30.7L939.5 19.5 M944.3 35.4L947.3 25.8 M969.5 2.2L964.0 14.3 M964.0 14.3L957.5 16.3 M814.7 52.8L806.5 29.4 M814.7 52.8L805.8 58.1 M805.8 58.1L785.5 48.3 M792.8 26.4L806.5 29.4 M792.8 26.4L782.8 40.5 M782.8 40.5L785.5 48.3 M822.8 53.6L814.7 52.8 M822.9 16.5L806.5 29.4 M802.1 69.3L805.8 58.1 M776.1 63.3L785.5 48.3 M790.2 19.3L792.8 26.4 M881.9 40.3L886.7 49.3 M870.5 68.4L872.4 67.8 M872.4 67.8L886.7 49.3 M908.9 47.2L894.4 52.3 M908.9 47.2L908.7 34.7 M889.8 26.4L907.2 32.5 M907.2 32.5L908.7 34.7 M886.7 49.3L894.4 52.3 M886.7 92.1L889.4 89.6 M872.4 67.8L889.0 73.9 M889.4 89.6L889.0 73.9 M894.4 52.3L897.3 69.1 M897.3 69.1L889.0 73.9 M909.7 101.2L910.9 102.3 M909.7 101.2L908.7 91.8 M910.9 102.3L927.8 103.2 M928.6 102.1L927.8 103.2 M928.6 102.1L926.1 86.0 M926.1 86.0L908.7 91.8 M909.7 101.2L892.9 110.2 M889.4 89.6L905.9 88.8 M908.7 91.8L905.9 88.8 M897.3 69.1L907.0 72.9 M905.9 88.8L907.0 72.9 M908.9 47.2L911.1 48.8 M911.1 48.8L912.9 69.8 M912.9 69.8L907.0 72.9 M930.2 33.6L929.2 45.4 M928.8 30.7L927.6 30.2 M911.1 48.8L923.7 49.4 M927.6 30.2L908.7 34.7 M929.2 45.4L923.7 49.4 M944.3 35.4L947.1 39.8 M947.1 39.8L939.2 49.4 M929.2 45.4L939.2 49.4 M979.3 193.7L969.1 198.2 M969.1 198.2L963.2 186.8 M963.2 186.8L963.5 185.9 M975.7 179.6L974.2 179.0 M963.5 185.9L974.2 179.0 M973.2 163.7L986.6 163.2 M973.2 163.7L969.9 167.8 M987.8 164.6L986.6 163.2 M974.2 179.0L969.9 167.8 M992.4 18.2L995.0 26.9 M1041.4 45.0L1020.7 40.0 M995.0 26.9L1020.7 40.0 M991.8 228.4L992.4 210.9 M1000.2 105.0L991.6 90.4 M1000.2 105.0L1022.7 109.9 M1011.8 79.0L991.6 90.4 M928.6 102.1L940.2 100.5 M927.8 103.2L928.5 115.1 M928.5 115.1L935.5 119.3 M935.5 119.3L938.7 118.5 M938.7 118.5L946.3 111.0 M940.2 100.5L946.3 111.0 M950.3 129.7L956.8 124.3 M950.3 129.7L938.7 118.5 M956.8 124.3L957.8 120.9 M957.8 120.9L949.8 111.1 M946.3 111.0L949.8 111.1 M964.0 14.3L972.2 20.7 M972.2 20.7L965.0 27.8 M956.0 24.9L957.1 26.3 M957.1 26.3L965.0 27.8 M975.7 2.5L977.8 7.9 M975.7 2.5L992.5 -0.5 M977.8 7.9L988.8 14.5 M988.8 14.5L994.8 1.0 M992.5 -0.5L994.8 1.0 M975.3 2.2L975.7 2.5 M972.2 20.7L974.0 20.5 M974.0 20.5L977.8 7.9 M983.3 -31.9L992.5 -0.5 M989.4 16.3L988.8 14.5 M989.4 16.3L979.1 24.4 M979.1 24.4L974.0 20.5 M992.4 18.2L989.4 16.3 M1031.6 2.3L994.8 1.0 M921.6 19.4L912.3 18.0 M921.6 19.4L927.2 11.4 M927.2 11.4L922.7 2.5 M910.7 15.3L916.2 2.4 M910.7 15.3L912.3 18.0 M916.2 2.4L919.9 1.1 M922.7 2.5L919.9 1.1 M927.6 30.2L921.6 19.4 M907.2 32.5L912.3 18.0 M939.3 14.0L927.2 11.4 M933.9 -1.7L922.7 2.5 M898.5 12.1L910.7 15.3 M905.5 -1.7L916.2 2.4 M892.7 110.8L905.5 123.0 M894.8 134.1L902.4 132.0 M902.4 132.0L905.5 123.0 M910.9 102.3L914.4 119.1 M905.5 123.0L914.4 119.1 M928.5 115.1L917.5 120.1 M917.5 120.1L914.4 119.1 M899.2 155.1L903.0 155.7 M903.0 155.7L908.1 152.8 M902.4 132.0L912.4 141.8 M908.1 152.8L912.4 141.8 M1041.5 148.4L1062.7 151.5 M1022.7 109.9L990.7 123.4 M991.2 128.8L990.7 123.4 M956.8 124.3L965.6 132.9 M957.8 120.9L965.1 117.7 M965.1 117.7L974.2 126.7 M965.6 132.9L974.2 127.0 M974.2 126.7L974.2 127.0 M991.2 128.8L986.4 135.2 M998.8 147.4L986.4 135.2 M986.6 163.2L987.4 152.7 M998.8 147.4L987.4 152.7 M947.6 154.3L950.2 172.6 M947.6 154.3L948.1 153.8 M948.1 153.8L958.6 154.5 M958.6 154.5L962.6 166.9 M962.6 166.9L953.1 172.7 M950.2 172.6L953.1 172.7 M936.3 156.8L947.6 154.3 M936.3 156.8L935.3 168.3 M935.3 168.3L945.0 175.5 M945.0 175.5L950.2 172.6 M963.5 185.9L953.1 172.7 M969.9 167.8L962.6 166.9 M941.9 142.2L943.1 135.0 M941.9 142.2L947.6 148.3 M947.6 148.3L955.3 139.6 M955.3 139.6L949.9 131.0 M949.9 131.0L943.1 135.0 M948.1 153.8L947.6 148.3 M958.6 154.5L961.9 151.6 M959.8 140.5L961.9 151.6 M959.8 140.5L955.3 139.6 M950.3 129.7L949.9 131.0 M965.6 132.9L964.9 137.4 M964.9 137.4L959.8 140.5 M935.5 119.3L933.2 130.5 M933.2 130.5L943.1 135.0 M974.2 109.8L982.0 102.4 M974.2 109.8L981.4 119.2 M982.0 102.4L990.8 107.8 M990.8 107.8L986.6 119.2 M986.6 119.2L981.4 119.2 M965.1 117.7L968.8 109.8 M968.8 109.8L974.2 109.8 M974.2 126.7L981.4 119.2 M1000.2 105.0L990.8 107.8 M990.7 123.4L986.6 119.2 M968.8 109.8L964.5 104.0 M949.8 111.1L958.9 101.9 M964.5 104.0L958.9 101.9 M903.0 155.7L906.1 175.2 M920.2 159.8L908.1 152.8 M920.2 159.8L921.3 167.6 M921.3 167.6L906.1 175.2 M936.3 156.8L930.3 152.5 M935.3 168.3L925.7 170.9 M930.3 152.5L920.2 159.8 M921.3 167.6L925.7 170.9 M905.3 176.8L905.5 176.7 M905.5 176.7L906.1 175.2 M928.9 223.2L927.8 210.3 M933.0 224.5L943.0 218.8 M943.5 217.1L943.0 218.8 M943.5 217.1L935.1 208.0 M935.1 208.0L927.8 210.3 M908.2 217.5L922.9 208.1 M922.9 208.1L927.8 210.3 M965.5 281.3L965.1 277.9 M990.1 229.1L978.2 225.2 M978.2 225.2L970.0 235.4 M985.1 209.0L984.6 209.2 M978.2 225.2L977.0 222.0 M984.6 209.2L977.0 222.0 M995.0 26.9L981.9 34.1 M1020.7 40.0L989.7 41.2 M989.7 41.2L981.9 34.1 M979.1 24.4L981.5 34.0 M981.9 34.1L981.5 34.0 M968.1 33.4L965.0 27.8 M968.1 33.4L981.1 34.3 M981.5 34.0L981.1 34.3 M968.1 33.4L963.8 41.4 M975.7 44.9L981.1 34.3 M975.7 44.9L968.2 47.6 M968.2 47.6L963.8 41.4 M957.1 26.3L955.8 39.6 M963.8 41.4L955.8 39.6 M947.1 39.8L953.4 40.9 M953.4 40.9L955.8 39.6 M989.7 41.2L987.1 51.6 M994.8 57.2L987.1 51.6 M975.7 44.9L983.1 52.2 M987.1 51.6L983.1 52.2 M966.4 53.4L968.2 47.6 M966.4 53.4L977.0 61.0 M983.1 52.2L977.0 61.0 M931.0 144.8L931.4 132.0 M931.0 144.8L929.5 146.7 M929.5 146.7L914.8 141.0 M931.4 132.0L921.2 131.0 M921.2 131.0L914.8 141.0 M933.2 130.5L931.4 132.0 M941.9 142.2L931.0 144.8 M930.3 152.5L929.5 146.7 M912.4 141.8L914.8 141.0 M917.5 120.1L921.2 131.0 M912.9 69.8L917.8 70.6 M923.7 49.4L927.1 62.1 M927.1 62.1L917.8 70.6 M926.1 86.0L926.8 84.9 M926.8 84.9L926.5 80.6 M917.8 70.6L926.5 80.6 M940.2 100.5L944.6 92.1 M958.9 101.9L957.8 98.9 M957.8 98.9L944.6 92.1 M926.8 84.9L944.0 88.4 M944.6 92.1L944.0 88.4 M939.2 49.4L942.8 56.2 M927.1 62.1L933.4 63.7 M942.8 56.2L933.4 63.7 M926.5 80.6L936.2 72.2 M933.4 63.7L936.2 72.2 M971.3 141.7L972.0 151.5 M971.3 141.7L981.0 136.0 M981.0 136.0L982.4 136.5 M982.4 136.5L982.7 149.8 M982.7 149.8L972.2 151.7 M972.2 151.7L972.0 151.5 M964.9 137.4L971.3 141.7 M961.9 151.6L972.0 151.5 M974.2 127.0L981.0 136.0 M986.4 135.2L982.4 136.5 M987.4 152.7L982.7 149.8 M973.2 163.7L972.2 151.7 M982.0 102.4L981.0 96.0 M964.5 104.0L972.4 94.9 M981.0 96.0L972.4 94.9 M961.4 89.8L957.8 98.9 M961.4 89.8L968.6 89.0 M972.4 94.9L968.6 89.0 M963.2 186.8L953.9 191.6 M953.9 191.6L948.3 188.6 M945.0 175.5L944.5 177.1 M948.3 188.6L944.5 177.1 M954.7 227.5L946.7 227.7 M943.5 232.6L946.7 227.7 M937.1 232.3L943.5 232.6 M965.1 277.9L961.8 268.5 M943.0 218.8L946.7 227.7 M943.5 217.1L950.2 214.2 M939.3 200.8L935.1 208.0 M939.3 200.8L948.8 203.1 M950.2 214.2L948.8 203.1 M953.9 191.6L953.9 199.9 M939.3 200.8L938.4 197.0 M938.4 197.0L948.3 188.6 M948.8 203.1L953.9 199.9 M994.8 57.2L990.5 64.8 M977.0 61.0L977.6 63.3 M977.6 63.3L990.5 64.8 M1011.8 79.0L992.3 73.0 M992.3 73.0L990.5 64.8 M966.4 53.4L964.6 54.6 M953.4 40.9L953.7 52.8 M964.6 54.6L953.7 52.8 M942.8 56.2L946.8 57.9 M953.7 52.8L946.8 57.9 M986.9 89.4L989.5 75.1 M986.9 89.4L985.1 90.1 M985.1 90.1L976.5 81.8 M976.5 81.8L980.6 74.5 M989.5 75.1L980.6 74.5 M991.6 90.4L986.9 89.4 M992.3 73.0L989.5 75.1 M981.0 96.0L985.1 90.1 M971.9 81.9L976.5 81.8 M971.9 81.9L968.6 89.0 M976.1 66.7L980.6 74.5 M976.1 66.7L977.6 63.3 M933.4 184.8L933.8 192.8 M933.4 184.8L925.6 180.7 M933.8 192.8L920.0 197.0 M925.6 180.7L917.5 185.8 M917.5 185.8L917.8 195.2 M917.8 195.2L920.0 197.0 M938.4 197.0L933.8 192.8 M944.5 177.1L933.4 184.8 M925.7 170.9L925.6 180.7 M922.9 208.1L920.0 197.0 M905.5 176.7L917.5 185.8 M904.5 198.8L917.8 195.2 M970.2 218.4L968.5 206.3 M970.2 218.4L961.7 223.4 M955.7 215.7L964.6 205.4 M955.7 215.7L959.0 222.7 M964.6 205.4L967.0 204.9 M959.0 222.7L961.7 223.4 M967.0 204.9L968.5 206.3 M984.6 209.2L968.5 206.3 M977.0 222.0L970.2 218.4 M970.0 235.4L961.7 223.4 M950.2 214.2L955.7 215.7 M953.9 199.9L964.6 205.4 M954.7 227.5L959.0 222.7 M969.1 198.2L967.0 204.9 M950.6 67.3L960.7 69.5 M950.6 67.3L944.5 74.4 M957.1 83.3L946.3 84.6 M957.1 83.3L963.5 72.8 M960.7 69.5L963.5 72.6 M946.3 84.6L944.5 74.4 M963.5 72.8L963.5 72.6 M964.6 54.6L960.7 69.5 M946.8 57.9L950.6 67.3 M936.2 72.2L944.5 74.4 M961.4 89.8L957.1 83.3 M944.0 88.4L946.3 84.6 M971.9 81.9L963.5 72.8 M976.1 66.7L963.5 72.6" stroke="#dde0ea" stroke-width="1.3" fill="none"/></g>
<path d="M905 31 Q915 45 925 62 M915 31 Q925 45 933 62 M926 31 Q935 48 942 64 M936 31 Q945 50 952 68 M943 31 Q952 52 960 74 M952 140 L905 200 M957 136 L915 200 M946 143 L893 200 M940 146 L884 200 M960 130 L925 175" stroke="#dde0ea" stroke-width="1.1" fill="none" opacity="0.85"/>
<ellipse cx="933" cy="102.3" rx="34" ry="40" transform="rotate(12 933 102.3)" fill="url(#bg1)"/>
<g clip-path="url(#bc)">
<polygon points="916.7,73.4 922.2,65.6 933.1,64.8 937.8,70.3 933.9,76.6 923.8,78.9" fill="#23232e"/>
<polygon points="907.3,104.7 913.6,98.4 921.4,99.2 926.9,109.4 922.2,121.1 911.3,118.8" fill="#1c1c24"/>
<polygon points="944.1,103.1 947.2,90.6 955,89.8 958.9,96.9 958.1,104.7 951.9,113.3" fill="#1c1c26"/>
<polygon points="931.6,140.6 934.7,132.8 942.5,129.7 950.3,131.3 951.1,137.5 945.6,140.6" fill="#1e1e26"/>
<polygon points="964,106 968,110 966,124 960,128" fill="#2a2a36"/>
<path d="M898 120 Q915 140 935 143 L900 143Z" fill="#c8b8bc" opacity="0.5"/>
<path d="M923.8,78.9 L921.4,99.2 M933.9,76.6 L947.2,90.6 M926.9,109.4 L944.1,103.1 M922.2,121.1 L934.7,132.8 M951.9,113.3 L950.3,131.3 M911.3,118.8 L905,128" stroke="#b8b8c0" stroke-width="0.8" fill="none"/>
<path d="M905 62 L960 140 M930 60 L968 118 M900 85 L940 150 M899 100 L930 150" stroke="#e8e8ee" stroke-width="0.7" opacity="0.7" fill="none"/>
</g>
</g>
</svg>
<div class="btn" style="left:842px;top:7.7px;width:13.5px;height:12px;line-height:12px;font-size:8px">-</div>
<div class="btn" style="left:997px;top:7.7px;width:15px;height:12px;line-height:12px;font-size:8px">+</div>
<div class="abs" style="left:867.6px;top:5.0px;font-size:11.4px;color:#555;line-height:16px">Selected time: 20:13:00</div>
</body></html>
